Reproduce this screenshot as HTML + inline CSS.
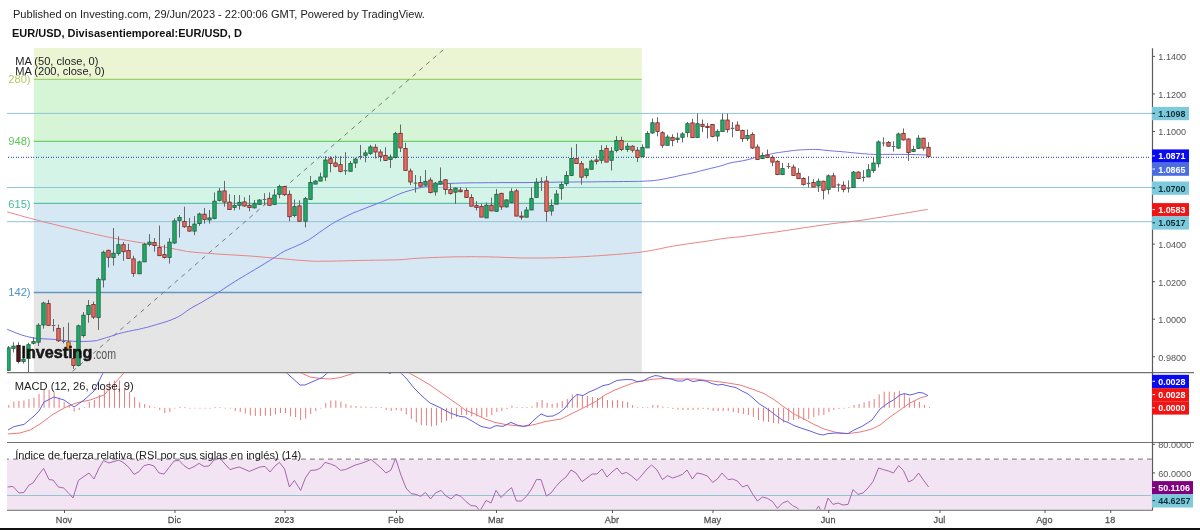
<!DOCTYPE html>
<html><head><meta charset="utf-8"><title>EUR/USD chart</title>
<style>
html,body{margin:0;padding:0;background:#fff;}
body{width:1200px;height:530px;position:relative;overflow:hidden;font-family:"Liberation Sans",Arial,sans-serif;}
.hdr{position:absolute;left:13.6px;white-space:nowrap;color:#222;will-change:transform;}
</style></head><body>
<div class="hdr" style="top:6.2px;left:13.3px;font-size:11.05px;line-height:16px;">Published on Investing.com, 29/Jun/2023 - 22:00:06 GMT, Powered by TradingView.</div>
<div class="hdr" style="top:24.9px;left:12.3px;font-size:11.0px;font-weight:bold;line-height:16px;color:#111;">EUR/USD, Divisasentiemporeal:EUR/USD, D</div>
<svg width="1200" height="530" viewBox="0 0 1200 530" style="position:absolute;left:0;top:0;will-change:transform">
<defs><clipPath id="cm"><rect x="7" y="48" width="1145.5" height="324.5"/></clipPath><clipPath id="cmacd"><rect x="7" y="373.2" width="1145.5" height="68.6"/></clipPath><clipPath id="crsi"><rect x="7" y="443" width="1145.5" height="66.6"/></clipPath></defs>
<g clip-path="url(#cm)">
<rect x="33.8" y="48" width="608.0" height="31.2" fill="#ebf4d3"/>
<rect x="33.8" y="79.2" width="608.0" height="62.0" fill="#d5f5d6"/>
<rect x="33.8" y="141.2" width="608.0" height="62.5" fill="#d5f4e8"/>
<rect x="33.8" y="203.7" width="608.0" height="88.6" fill="#d6e8f4"/>
<rect x="33.8" y="292.3" width="608.0" height="80.2" fill="#e5e5e6"/>
<line x1="33.8" y1="79.4" x2="641.8" y2="79.4" stroke="#9fcf6e" stroke-width="1.3"/>
<line x1="33.8" y1="141.4" x2="641.8" y2="141.4" stroke="#6ccf6c" stroke-width="1.3"/>
<line x1="33.8" y1="203.3" x2="641.8" y2="203.3" stroke="#5cbfa6" stroke-width="1.3"/>
<line x1="33.8" y1="292.5" x2="641.8" y2="292.5" stroke="#6496c0" stroke-width="1.3"/>
<text x="30.6" y="83.1" text-anchor="end" font-family="Liberation Sans, sans-serif" font-size="11.2" fill="#b2ca62">280)</text>
<text x="30.6" y="145.1" text-anchor="end" font-family="Liberation Sans, sans-serif" font-size="11.2" fill="#5bc75b">948)</text>
<text x="30.6" y="207.6" text-anchor="end" font-family="Liberation Sans, sans-serif" font-size="11.2" fill="#47bc9a">615)</text>
<text x="30.6" y="296.2" text-anchor="end" font-family="Liberation Sans, sans-serif" font-size="11.2" fill="#4d94c6">142)</text>
<line x1="7" y1="113.4" x2="1152" y2="113.4" stroke="#92c4d4" stroke-width="1"/>
<line x1="7" y1="187.5" x2="1152" y2="187.5" stroke="#92c4d4" stroke-width="1"/>
<line x1="7" y1="221.7" x2="1152" y2="221.7" stroke="#92c4d4" stroke-width="1"/>
<line x1="70.5" y1="373.1" x2="445.1" y2="48.2" stroke="#7a7a7a" stroke-width="1" stroke-dasharray="4.5 4.5" stroke-dashoffset="6.2"/>
<polyline points="7.2,211.9 10.3,212.8 14.4,213.9 19.4,215.3 24.9,216.9 30.6,218.4 36.2,219.9 41.8,221.4 47.8,222.9 53.9,224.4 60.1,225.9 66.4,227.4 72.5,228.9 78.5,230.3 84.6,231.8 90.6,233.2 96.6,234.6 102.7,235.9 108.7,237.2 114.7,238.3 120.8,239.4 126.9,240.4 132.9,241.4 139,242.4 145,243.4 151.3,244.6 158,245.8 164.7,247.1 171,248.3 176.6,249.4 181,250.2 183.8,250.8 185.2,251.1 185.9,251.3 186.4,251.4 187.6,251.5 190,251.8 193.8,252.2 198.4,252.6 203.7,253 209.2,253.4 214.8,253.8 220,254.2 225,254.5 230,254.8 235,255.1 240,255.4 245,255.7 250,256 255,256.4 260,256.8 265,257.3 270,257.7 275,258.2 280,258.6 285.2,259 290.5,259.5 295.9,260 301,260.4 305.8,260.7 310,261 313.2,261.2 315.6,261.3 317.6,261.3 319.7,261.3 322.3,261.2 326,261.2 330.9,261.1 336.5,261 342.8,260.9 349.3,260.7 355.9,260.5 362.3,260.4 368.8,260.3 375.6,260.2 382.4,260.1 389,260 394.9,259.9 400,259.7 403.7,259.5 406.2,259.3 408.2,259 410.1,258.8 412.6,258.5 416.2,258.3 421.1,258.1 426.8,257.8 433.1,257.5 439.7,257.3 446.2,257.1 452.5,256.9 458.5,256.8 464.6,256.8 470.6,256.7 476.6,256.8 482.7,256.8 488.7,256.9 494.7,257 500.8,257.2 506.8,257.5 512.9,257.7 519,257.9 525,258 531,258 537.1,258 543.1,258 549.1,257.9 555.2,257.8 561.2,257.6 567.2,257.4 573.3,257.1 579.3,256.9 585.3,256.5 591.4,256.2 597.4,255.8 603.6,255.4 610.1,254.9 616.6,254.4 622.9,253.9 628.6,253.4 633.6,252.9 637.7,252.5 641,252.1 643.8,251.7 646.3,251.3 648.9,250.9 651.7,250.4 654.7,249.8 657.8,249.2 660.8,248.6 663.8,247.9 666.9,247.3 669.9,246.7 672.9,246.2 675.9,245.7 679,245.2 682,244.7 685,244.3 688,243.8 691,243.4 694,243 697,242.6 700.1,242.1 703.1,241.7 706.1,241.3 709.1,240.8 712.2,240.3 715.3,239.8 718.3,239.3 721.3,238.8 724.2,238.4 726.9,238.1 729.5,237.8 732,237.6 734.5,237.4 737.2,237.1 740,236.8 743.1,236.4 746.4,235.9 749.7,235.5 753.2,235 756.6,234.5 760,234 763.3,233.6 766.7,233.1 770,232.7 773.3,232.3 776.7,231.9 780,231.4 783.2,230.9 786.3,230.5 789.4,230 792.6,229.5 796.1,229 800,228.4 804.4,227.7 809.3,227 814.5,226.2 819.8,225.4 825,224.7 830,224 834.9,223.4 839.7,222.8 844.5,222.3 849.2,221.8 853.7,221.2 858,220.7 862,220.1 865.9,219.6 869.5,219 873,218.4 876.5,217.9 880,217.3 883.4,216.8 886.5,216.2 889.7,215.7 892.9,215.2 896.3,214.6 900,214 904.5,213.3 909.6,212.4 915,211.5 920.1,210.6 924.4,209.9 927.5,209.4" fill="none" stroke="#e88585" stroke-width="1"/>
<polyline points="7.2,329.3 8.8,329.9 11,330.9 13.5,331.9 16.3,333.1 19.1,334.1 21.7,335 24.1,335.7 26.4,336.4 28.7,336.9 31.1,337.5 33.6,337.9 36.2,338.3 39,338.6 42,338.8 45,338.9 48.1,339.1 51.2,339.2 54.3,339.4 57.4,339.7 60.6,340 63.7,340.4 66.9,340.7 69.8,341 72.5,341.2 74.9,341.3 77.2,341.4 79.3,341.4 81.2,341.5 83.1,341.4 85,341.4 86.9,341.4 88.7,341.3 90.5,341.2 92.1,341.1 93.7,340.9 95,340.8 96.1,340.7 96.9,340.5 97.5,340.4 98.1,340.2 98.9,339.9 100,339.6 101.4,339.2 103,338.7 104.7,338.2 106.5,337.6 108.3,337 110,336.5 111.7,336 113.3,335.4 115,334.9 116.7,334.3 118.3,333.8 120,333.3 121.7,332.9 123.3,332.5 125,332.1 126.7,331.7 128.3,331.4 130,331 131.7,330.7 133.3,330.3 135,330 136.7,329.7 138.3,329.4 140,329 141.7,328.6 143.3,328.2 145,327.8 146.7,327.4 148.3,327 150,326.5 151.7,326 153.3,325.5 155,325 156.7,324.5 158.3,324 160,323.5 161.7,323 163.3,322.5 165,322 166.7,321.5 168.3,320.9 170,320.3 171.7,319.7 173.3,319 175,318.3 176.7,317.5 178.3,316.7 180,315.8 181.6,314.8 183.2,313.7 184.8,312.5 186.4,311.2 188.2,310 190,308.8 192,307.6 194,306.4 196.2,305.3 198.4,304.1 200.7,302.8 203,301.5 205.3,300.1 207.7,298.7 210.2,297.3 212.7,295.8 215.2,294.2 217.9,292.6 220.6,290.9 223.3,289.1 226.1,287.2 229,285.3 232.1,283.3 235.3,281.3 238.8,279.1 242.7,276.8 246.7,274.4 250.6,272.1 254.4,269.8 257.9,267.7 261.1,265.8 264.2,263.9 267,262.1 269.7,260.5 272.2,258.9 274.5,257.5 276.4,256.3 278,255.2 279.3,254.2 280.6,253.4 282,252.5 283.6,251.6 285.4,250.7 287.4,249.8 289.4,249 291.5,248.1 293.6,247.2 295.7,246.3 297.8,245.3 299.9,244.4 302,243.4 304.1,242.3 306.2,241.2 308.4,240 310.6,238.6 312.8,237.2 315,235.6 317.2,234 319.4,232.4 321.6,230.9 323.8,229.4 325.9,228 328,226.5 330.2,225 332.4,223.6 334.8,222.2 337.4,220.7 340.3,219.3 343.2,217.8 346.1,216.4 348.7,215.1 351,214 352.8,213.2 354.1,212.6 355.1,212.2 356.3,211.8 357.6,211.3 359.4,210.6 361.8,209.6 364.7,208.5 367.9,207.2 371,206 374,204.9 376.4,203.9 378.2,203.2 379.5,202.7 380.6,202.3 381.8,201.9 383.1,201.4 384.9,200.6 387.2,199.6 389.9,198.3 392.8,196.9 395.8,195.5 398.9,194.2 401.9,193 404.9,192 408.1,191 411.3,190.1 414.4,189.2 417.3,188.5 420,187.8 422.3,187.3 424.2,186.8 426,186.5 427.8,186.2 429.7,185.9 432,185.6 434.4,185.2 436.8,184.8 439.3,184.4 442.2,184 445.7,183.7 450,183.4 455.3,183.2 461.5,183 468.2,182.9 475.2,182.8 482.1,182.8 488.7,182.7 494.9,182.7 501,182.6 507,182.6 513,182.6 519,182.6 525,182.6 531,182.5 537.1,182.5 543.1,182.4 549.1,182.3 555.2,182.2 561.2,182.1 567.2,182 573.3,182 579.3,181.9 585.3,181.9 591.4,181.9 597.4,181.8 603.8,181.7 610.5,181.7 617.3,181.6 623.7,181.5 629.2,181.5 633.6,181.4 636.5,181.4 638,181.4 638.8,181.4 639.3,181.4 639.9,181.4 641.2,181.3 643.1,181.2 645.2,181.1 647.4,181 649.8,180.9 652.1,180.7 654.4,180.5 656.6,180.2 658.8,179.9 661,179.5 663.3,179.1 665.5,178.6 667.7,178.2 669.9,177.7 672.1,177.3 674.3,176.8 676.5,176.3 678.7,175.8 680.9,175.3 683.1,174.8 685.3,174.4 687.4,174 689.6,173.5 691.8,173.1 694,172.6 696.2,172.1 698.4,171.5 700.6,170.9 702.9,170.3 705.1,169.8 707.3,169.2 709.5,168.7 711.8,168.1 714.1,167.6 716.4,167 718.5,166.5 720.5,166 722.2,165.5 723.7,165 725.1,164.5 726.6,164 728.1,163.5 730,163 732.2,162.5 734.7,162.1 737.4,161.7 740.1,161.2 742.6,160.8 745,160.3 747.1,159.8 749.1,159.3 750.9,158.8 752.7,158.3 754.5,157.8 756.4,157.3 758.3,156.8 760.3,156.4 762.3,155.9 764.2,155.5 766,155.1 767.7,154.7 769.2,154.4 770.4,154.1 771.6,153.8 772.7,153.6 773.9,153.3 775.3,153.1 776.8,152.8 778.4,152.6 780.1,152.3 781.8,152.1 783.5,151.8 785.3,151.6 787.1,151.4 789,151.1 790.9,150.8 792.8,150.6 794.7,150.4 796.6,150.2 798.5,150 800.4,149.9 802.4,149.8 804.3,149.7 806.1,149.7 807.9,149.6 809.5,149.5 810.9,149.5 812.3,149.4 813.7,149.4 815.3,149.4 817,149.5 819,149.6 821.3,149.8 823.6,150.1 826,150.3 828.3,150.6 830.5,150.8 832.5,151 834.5,151.1 836.3,151.3 838.2,151.4 840,151.5 841.9,151.7 843.8,151.9 845.6,152 847.4,152.2 849.3,152.4 851.2,152.6 853.2,152.8 855.4,153 857.7,153.2 860.1,153.4 862.5,153.7 864.8,153.8 866.8,154 868.4,154.1 869.6,154.2 870.7,154.3 872,154.3 873.6,154.4 875.8,154.4 878.8,154.4 882.5,154.4 886.5,154.4 890.7,154.4 894.7,154.4 898.4,154.4 901.8,154.4 905,154.4 908.1,154.5 911.1,154.5 913.9,154.5 916.5,154.6 918.9,154.7 921.2,154.8 923.3,154.9 925.2,155 926.7,155 927.9,155.1" fill="none" stroke="#6f6fe6" stroke-width="1"/>
<line x1="6" y1="157.4" x2="1151" y2="157.4" stroke="#5060c0" stroke-width="1.2" stroke-dasharray="1 1 1 2"/>
<line x1="8.50" y1="346.1" x2="8.50" y2="370.5" stroke="#636869" stroke-width="1"/>
<rect x="6.80" y="347.8" width="3.4" height="22.7" fill="#1cad6b" stroke="#235a3b" stroke-width="0.8"/>
<line x1="13.50" y1="342.2" x2="13.50" y2="352.4" stroke="#636869" stroke-width="1"/>
<rect x="11.80" y="346.1" width="3.4" height="2.3" fill="#1cad6b" stroke="#235a3b" stroke-width="0.8"/>
<line x1="18.50" y1="342.2" x2="18.50" y2="363.5" stroke="#636869" stroke-width="1"/>
<rect x="16.80" y="345.4" width="3.4" height="16.0" fill="#4a1a18" stroke="#2a0a0a" stroke-width="0.8"/>
<line x1="23.50" y1="348.4" x2="23.50" y2="363.5" stroke="#636869" stroke-width="1"/>
<rect x="21.80" y="359.2" width="3.4" height="2.2" fill="#1cad6b" stroke="#235a3b" stroke-width="0.8"/>
<line x1="28.50" y1="342.7" x2="28.50" y2="372.5" stroke="#636869" stroke-width="1"/>
<rect x="26.80" y="344.7" width="3.4" height="13.9" fill="#1cad6b" stroke="#235a3b" stroke-width="0.8"/>
<line x1="33.50" y1="337.0" x2="33.50" y2="344.4" stroke="#636869" stroke-width="1"/>
<rect x="31.80" y="341.6" width="3.4" height="1.7" fill="#1cad6b" stroke="#235a3b" stroke-width="0.8"/>
<line x1="38.50" y1="323.2" x2="38.50" y2="346.1" stroke="#636869" stroke-width="1"/>
<rect x="36.80" y="325.2" width="3.4" height="17.0" fill="#1cad6b" stroke="#235a3b" stroke-width="0.8"/>
<line x1="43.50" y1="301.7" x2="43.50" y2="328.6" stroke="#636869" stroke-width="1"/>
<rect x="41.80" y="303.0" width="3.4" height="22.0" fill="#1cad6b" stroke="#235a3b" stroke-width="0.8"/>
<line x1="48.50" y1="299.8" x2="48.50" y2="325.8" stroke="#636869" stroke-width="1"/>
<rect x="46.80" y="303.6" width="3.4" height="21.7" fill="#ec6a60" stroke="#6c2a25" stroke-width="0.8"/>
<line x1="53.50" y1="319.0" x2="53.50" y2="331.4" stroke="#636869" stroke-width="1"/>
<line x1="51.70" y1="325.5" x2="55.30" y2="325.5" stroke="#636869" stroke-width="1.2"/>
<line x1="58.50" y1="324.6" x2="58.50" y2="342.0" stroke="#636869" stroke-width="1"/>
<rect x="56.80" y="328.4" width="3.4" height="12.4" fill="#ec6a60" stroke="#6c2a25" stroke-width="0.8"/>
<line x1="63.50" y1="326.9" x2="63.50" y2="343.3" stroke="#636869" stroke-width="1"/>
<line x1="61.70" y1="341.5" x2="65.30" y2="341.5" stroke="#636869" stroke-width="1.2"/>
<line x1="68.50" y1="322.7" x2="68.50" y2="351.0" stroke="#636869" stroke-width="1"/>
<rect x="66.80" y="342.0" width="3.4" height="7.0" fill="#f0962a" stroke="#7a4a10" stroke-width="0.8"/>
<line x1="73.50" y1="349.0" x2="73.50" y2="368.8" stroke="#636869" stroke-width="1"/>
<rect x="71.80" y="358.6" width="3.4" height="6.8" fill="#ec6a60" stroke="#6c2a25" stroke-width="0.8"/>
<line x1="78.50" y1="324.6" x2="78.50" y2="366.5" stroke="#636869" stroke-width="1"/>
<rect x="76.80" y="325.8" width="3.4" height="39.6" fill="#1cad6b" stroke="#235a3b" stroke-width="0.8"/>
<line x1="83.50" y1="312.0" x2="83.50" y2="337.5" stroke="#636869" stroke-width="1"/>
<rect x="81.80" y="315.2" width="3.4" height="20.4" fill="#1cad6b" stroke="#235a3b" stroke-width="0.8"/>
<line x1="88.50" y1="300.0" x2="88.50" y2="322.7" stroke="#636869" stroke-width="1"/>
<rect x="86.80" y="305.4" width="3.4" height="9.0" fill="#1cad6b" stroke="#235a3b" stroke-width="0.8"/>
<line x1="93.50" y1="301.6" x2="93.50" y2="319.0" stroke="#636869" stroke-width="1"/>
<rect x="91.80" y="304.4" width="3.4" height="12.7" fill="#ec6a60" stroke="#6c2a25" stroke-width="0.8"/>
<line x1="98.50" y1="277.5" x2="98.50" y2="329.9" stroke="#636869" stroke-width="1"/>
<rect x="96.80" y="279.3" width="3.4" height="38.3" fill="#1cad6b" stroke="#235a3b" stroke-width="0.8"/>
<line x1="103.50" y1="250.7" x2="103.50" y2="287.5" stroke="#636869" stroke-width="1"/>
<rect x="101.80" y="252.2" width="3.4" height="27.7" fill="#1cad6b" stroke="#235a3b" stroke-width="0.8"/>
<line x1="108.50" y1="249.7" x2="108.50" y2="267.5" stroke="#636869" stroke-width="1"/>
<rect x="106.80" y="250.3" width="3.4" height="7.0" fill="#ec6a60" stroke="#6c2a25" stroke-width="0.8"/>
<line x1="113.50" y1="228.0" x2="113.50" y2="265.6" stroke="#636869" stroke-width="1"/>
<rect x="111.80" y="253.2" width="3.4" height="4.4" fill="#1cad6b" stroke="#235a3b" stroke-width="0.8"/>
<line x1="118.50" y1="236.4" x2="118.50" y2="255.7" stroke="#636869" stroke-width="1"/>
<rect x="116.80" y="244.7" width="3.4" height="8.9" fill="#1cad6b" stroke="#235a3b" stroke-width="0.8"/>
<line x1="123.50" y1="242.0" x2="123.50" y2="260.8" stroke="#636869" stroke-width="1"/>
<rect x="121.80" y="244.7" width="3.4" height="7.0" fill="#ec6a60" stroke="#6c2a25" stroke-width="0.8"/>
<line x1="128.50" y1="243.8" x2="128.50" y2="258.6" stroke="#636869" stroke-width="1"/>
<rect x="126.80" y="250.4" width="3.4" height="8.1" fill="#ec6a60" stroke="#6c2a25" stroke-width="0.8"/>
<line x1="133.50" y1="255.7" x2="133.50" y2="276.8" stroke="#636869" stroke-width="1"/>
<rect x="131.80" y="258.9" width="3.4" height="14.5" fill="#ec6a60" stroke="#6c2a25" stroke-width="0.8"/>
<line x1="139.50" y1="260.6" x2="139.50" y2="273.8" stroke="#636869" stroke-width="1"/>
<rect x="137.80" y="261.9" width="3.4" height="11.9" fill="#1cad6b" stroke="#235a3b" stroke-width="0.8"/>
<line x1="144.50" y1="242.7" x2="144.50" y2="261.9" stroke="#636869" stroke-width="1"/>
<rect x="142.80" y="244.3" width="3.4" height="17.6" fill="#1cad6b" stroke="#235a3b" stroke-width="0.8"/>
<line x1="149.50" y1="234.2" x2="149.50" y2="246.4" stroke="#636869" stroke-width="1"/>
<rect x="147.80" y="242.1" width="3.4" height="2.2" fill="#1cad6b" stroke="#235a3b" stroke-width="0.8"/>
<line x1="154.50" y1="238.1" x2="154.50" y2="251.7" stroke="#636869" stroke-width="1"/>
<rect x="152.80" y="242.5" width="3.4" height="2.9" fill="#ec6a60" stroke="#6c2a25" stroke-width="0.8"/>
<line x1="159.50" y1="225.6" x2="159.50" y2="255.7" stroke="#636869" stroke-width="1"/>
<rect x="157.80" y="247.4" width="3.4" height="8.3" fill="#ec6a60" stroke="#6c2a25" stroke-width="0.8"/>
<line x1="164.50" y1="244.7" x2="164.50" y2="258.6" stroke="#636869" stroke-width="1"/>
<rect x="162.80" y="254.6" width="3.4" height="2.9" fill="#ec6a60" stroke="#6c2a25" stroke-width="0.8"/>
<line x1="169.50" y1="238.1" x2="169.50" y2="263.6" stroke="#636869" stroke-width="1"/>
<rect x="167.80" y="242.1" width="3.4" height="15.4" fill="#1cad6b" stroke="#235a3b" stroke-width="0.8"/>
<line x1="174.50" y1="218.3" x2="174.50" y2="244.1" stroke="#636869" stroke-width="1"/>
<rect x="172.80" y="220.9" width="3.4" height="22.1" fill="#1cad6b" stroke="#235a3b" stroke-width="0.8"/>
<line x1="179.50" y1="215.0" x2="179.50" y2="237.5" stroke="#636869" stroke-width="1"/>
<rect x="177.80" y="217.4" width="3.4" height="3.1" fill="#1cad6b" stroke="#235a3b" stroke-width="0.8"/>
<line x1="184.50" y1="206.7" x2="184.50" y2="227.8" stroke="#636869" stroke-width="1"/>
<rect x="182.80" y="221.5" width="3.4" height="5.3" fill="#ec6a60" stroke="#6c2a25" stroke-width="0.8"/>
<line x1="189.50" y1="217.9" x2="189.50" y2="231.8" stroke="#636869" stroke-width="1"/>
<rect x="187.80" y="226.5" width="3.4" height="4.6" fill="#ec6a60" stroke="#6c2a25" stroke-width="0.8"/>
<line x1="194.50" y1="216.0" x2="194.50" y2="235.1" stroke="#636869" stroke-width="1"/>
<rect x="192.80" y="224.1" width="3.4" height="7.0" fill="#1cad6b" stroke="#235a3b" stroke-width="0.8"/>
<line x1="199.50" y1="212.6" x2="199.50" y2="225.9" stroke="#636869" stroke-width="1"/>
<rect x="197.80" y="214.0" width="3.4" height="9.6" fill="#1cad6b" stroke="#235a3b" stroke-width="0.8"/>
<line x1="204.50" y1="208.0" x2="204.50" y2="223.6" stroke="#636869" stroke-width="1"/>
<rect x="202.80" y="214.2" width="3.4" height="5.4" fill="#ec6a60" stroke="#6c2a25" stroke-width="0.8"/>
<line x1="209.50" y1="210.0" x2="209.50" y2="223.6" stroke="#636869" stroke-width="1"/>
<rect x="207.80" y="217.9" width="3.4" height="2.0" fill="#1cad6b" stroke="#235a3b" stroke-width="0.8"/>
<line x1="214.50" y1="192.4" x2="214.50" y2="219.3" stroke="#636869" stroke-width="1"/>
<rect x="212.80" y="201.2" width="3.4" height="17.4" fill="#1cad6b" stroke="#235a3b" stroke-width="0.8"/>
<line x1="219.50" y1="188.0" x2="219.50" y2="201.4" stroke="#636869" stroke-width="1"/>
<rect x="217.80" y="191.1" width="3.4" height="9.3" fill="#1cad6b" stroke="#235a3b" stroke-width="0.8"/>
<line x1="224.50" y1="180.9" x2="224.50" y2="206.7" stroke="#636869" stroke-width="1"/>
<rect x="222.80" y="190.9" width="3.4" height="11.2" fill="#ec6a60" stroke="#6c2a25" stroke-width="0.8"/>
<line x1="229.50" y1="194.2" x2="229.50" y2="209.6" stroke="#636869" stroke-width="1"/>
<rect x="227.80" y="202.1" width="3.4" height="7.5" fill="#ec6a60" stroke="#6c2a25" stroke-width="0.8"/>
<line x1="234.50" y1="195.0" x2="234.50" y2="210.4" stroke="#636869" stroke-width="1"/>
<rect x="232.80" y="205.4" width="3.4" height="2.0" fill="#1cad6b" stroke="#235a3b" stroke-width="0.8"/>
<line x1="239.50" y1="195.1" x2="239.50" y2="209.6" stroke="#636869" stroke-width="1"/>
<rect x="237.80" y="202.3" width="3.4" height="3.0" fill="#1cad6b" stroke="#235a3b" stroke-width="0.8"/>
<line x1="244.50" y1="197.2" x2="244.50" y2="206.8" stroke="#636869" stroke-width="1"/>
<rect x="242.80" y="201.9" width="3.4" height="4.1" fill="#ec6a60" stroke="#6c2a25" stroke-width="0.8"/>
<line x1="249.50" y1="195.1" x2="249.50" y2="211.3" stroke="#636869" stroke-width="1"/>
<rect x="247.80" y="205.3" width="3.4" height="2.3" fill="#ec6a60" stroke="#6c2a25" stroke-width="0.8"/>
<line x1="254.50" y1="200.0" x2="254.50" y2="208.5" stroke="#636869" stroke-width="1"/>
<rect x="252.80" y="203.7" width="3.4" height="4.2" fill="#1cad6b" stroke="#235a3b" stroke-width="0.8"/>
<line x1="259.50" y1="199.2" x2="259.50" y2="204.5" stroke="#636869" stroke-width="1"/>
<rect x="257.80" y="200.0" width="3.4" height="4.5" fill="#1cad6b" stroke="#235a3b" stroke-width="0.8"/>
<line x1="264.50" y1="193.2" x2="264.50" y2="205.1" stroke="#636869" stroke-width="1"/>
<line x1="262.70" y1="199.5" x2="266.30" y2="199.5" stroke="#636869" stroke-width="1.2"/>
<line x1="269.50" y1="192.4" x2="269.50" y2="205.3" stroke="#636869" stroke-width="1"/>
<rect x="267.80" y="198.3" width="3.4" height="7.0" fill="#ec6a60" stroke="#6c2a25" stroke-width="0.8"/>
<line x1="274.50" y1="189.3" x2="274.50" y2="204.5" stroke="#636869" stroke-width="1"/>
<rect x="272.80" y="195.1" width="3.4" height="9.4" fill="#1cad6b" stroke="#235a3b" stroke-width="0.8"/>
<line x1="279.50" y1="184.7" x2="279.50" y2="198.3" stroke="#636869" stroke-width="1"/>
<rect x="277.80" y="186.4" width="3.4" height="7.9" fill="#1cad6b" stroke="#235a3b" stroke-width="0.8"/>
<line x1="284.50" y1="185.9" x2="284.50" y2="196.0" stroke="#636869" stroke-width="1"/>
<rect x="282.80" y="186.4" width="3.4" height="8.3" fill="#ec6a60" stroke="#6c2a25" stroke-width="0.8"/>
<line x1="289.50" y1="190.4" x2="289.50" y2="221.2" stroke="#636869" stroke-width="1"/>
<rect x="287.80" y="194.3" width="3.4" height="22.4" fill="#ec6a60" stroke="#6c2a25" stroke-width="0.8"/>
<line x1="294.50" y1="199.4" x2="294.50" y2="217.3" stroke="#636869" stroke-width="1"/>
<rect x="292.80" y="206.6" width="3.4" height="9.0" fill="#1cad6b" stroke="#235a3b" stroke-width="0.8"/>
<line x1="299.50" y1="200.3" x2="299.50" y2="221.5" stroke="#636869" stroke-width="1"/>
<rect x="297.80" y="205.9" width="3.4" height="15.3" fill="#ec6a60" stroke="#6c2a25" stroke-width="0.8"/>
<line x1="305.50" y1="196.9" x2="305.50" y2="227.4" stroke="#636869" stroke-width="1"/>
<rect x="303.80" y="198.6" width="3.4" height="22.6" fill="#1cad6b" stroke="#235a3b" stroke-width="0.8"/>
<line x1="310.50" y1="176.0" x2="310.50" y2="199.4" stroke="#636869" stroke-width="1"/>
<rect x="308.80" y="182.4" width="3.4" height="17.0" fill="#1cad6b" stroke="#235a3b" stroke-width="0.8"/>
<line x1="315.50" y1="179.9" x2="315.50" y2="184.1" stroke="#636869" stroke-width="1"/>
<rect x="313.80" y="181.1" width="3.4" height="3.0" fill="#1cad6b" stroke="#235a3b" stroke-width="0.8"/>
<line x1="320.50" y1="172.6" x2="320.50" y2="181.1" stroke="#636869" stroke-width="1"/>
<rect x="318.80" y="177.0" width="3.4" height="4.1" fill="#1cad6b" stroke="#235a3b" stroke-width="0.8"/>
<line x1="325.50" y1="156.1" x2="325.50" y2="181.1" stroke="#636869" stroke-width="1"/>
<rect x="323.80" y="160.0" width="3.4" height="17.0" fill="#1cad6b" stroke="#235a3b" stroke-width="0.8"/>
<line x1="330.50" y1="156.1" x2="330.50" y2="172.3" stroke="#636869" stroke-width="1"/>
<rect x="328.80" y="158.7" width="3.4" height="4.7" fill="#ec6a60" stroke="#6c2a25" stroke-width="0.8"/>
<line x1="335.50" y1="155.6" x2="335.50" y2="167.2" stroke="#636869" stroke-width="1"/>
<rect x="333.80" y="162.9" width="3.4" height="3.4" fill="#ec6a60" stroke="#6c2a25" stroke-width="0.8"/>
<line x1="340.50" y1="156.1" x2="340.50" y2="172.3" stroke="#636869" stroke-width="1"/>
<rect x="338.80" y="164.6" width="3.4" height="6.8" fill="#ec6a60" stroke="#6c2a25" stroke-width="0.8"/>
<line x1="345.50" y1="152.2" x2="345.50" y2="174.8" stroke="#636869" stroke-width="1"/>
<line x1="343.70" y1="170.7" x2="347.30" y2="170.7" stroke="#636869" stroke-width="1.2"/>
<line x1="350.50" y1="161.0" x2="350.50" y2="171.3" stroke="#636869" stroke-width="1"/>
<rect x="348.80" y="163.5" width="3.4" height="7.8" fill="#1cad6b" stroke="#235a3b" stroke-width="0.8"/>
<line x1="355.50" y1="157.7" x2="355.50" y2="168.0" stroke="#636869" stroke-width="1"/>
<rect x="353.80" y="159.0" width="3.4" height="4.0" fill="#1cad6b" stroke="#235a3b" stroke-width="0.8"/>
<line x1="360.50" y1="144.9" x2="360.50" y2="159.5" stroke="#636869" stroke-width="1"/>
<line x1="358.70" y1="156.7" x2="362.30" y2="156.7" stroke="#636869" stroke-width="1.2"/>
<line x1="365.50" y1="150.2" x2="365.50" y2="162.3" stroke="#636869" stroke-width="1"/>
<rect x="363.80" y="152.9" width="3.4" height="2.6" fill="#1cad6b" stroke="#235a3b" stroke-width="0.8"/>
<line x1="370.50" y1="144.9" x2="370.50" y2="155.0" stroke="#636869" stroke-width="1"/>
<rect x="368.80" y="146.9" width="3.4" height="6.6" fill="#1cad6b" stroke="#235a3b" stroke-width="0.8"/>
<line x1="375.50" y1="144.2" x2="375.50" y2="158.5" stroke="#636869" stroke-width="1"/>
<rect x="373.80" y="147.2" width="3.4" height="4.8" fill="#ec6a60" stroke="#6c2a25" stroke-width="0.8"/>
<line x1="380.50" y1="149.4" x2="380.50" y2="161.5" stroke="#636869" stroke-width="1"/>
<rect x="378.80" y="152.0" width="3.4" height="4.5" fill="#ec6a60" stroke="#6c2a25" stroke-width="0.8"/>
<line x1="385.50" y1="147.2" x2="385.50" y2="161.0" stroke="#636869" stroke-width="1"/>
<rect x="383.80" y="155.5" width="3.4" height="5.0" fill="#ec6a60" stroke="#6c2a25" stroke-width="0.8"/>
<line x1="390.50" y1="154.4" x2="390.50" y2="168.0" stroke="#636869" stroke-width="1"/>
<rect x="388.80" y="157.0" width="3.4" height="2.5" fill="#1cad6b" stroke="#235a3b" stroke-width="0.8"/>
<line x1="395.50" y1="131.8" x2="395.50" y2="158.5" stroke="#636869" stroke-width="1"/>
<rect x="393.80" y="133.6" width="3.4" height="23.8" fill="#1cad6b" stroke="#235a3b" stroke-width="0.8"/>
<line x1="400.50" y1="124.5" x2="400.50" y2="152.0" stroke="#636869" stroke-width="1"/>
<rect x="398.80" y="133.3" width="3.4" height="14.6" fill="#ec6a60" stroke="#6c2a25" stroke-width="0.8"/>
<line x1="405.50" y1="142.8" x2="405.50" y2="170.5" stroke="#636869" stroke-width="1"/>
<rect x="403.80" y="148.4" width="3.4" height="22.1" fill="#ec6a60" stroke="#6c2a25" stroke-width="0.8"/>
<line x1="410.50" y1="168.5" x2="410.50" y2="185.1" stroke="#636869" stroke-width="1"/>
<rect x="408.80" y="171.0" width="3.4" height="11.0" fill="#ec6a60" stroke="#6c2a25" stroke-width="0.8"/>
<line x1="415.50" y1="175.0" x2="415.50" y2="192.6" stroke="#636869" stroke-width="1"/>
<line x1="413.70" y1="183.1" x2="417.30" y2="183.1" stroke="#636869" stroke-width="1.2"/>
<line x1="420.50" y1="176.0" x2="420.50" y2="187.0" stroke="#636869" stroke-width="1"/>
<rect x="418.80" y="182.5" width="3.4" height="3.7" fill="#ec6a60" stroke="#6c2a25" stroke-width="0.8"/>
<line x1="425.50" y1="170.0" x2="425.50" y2="186.2" stroke="#636869" stroke-width="1"/>
<rect x="423.80" y="181.3" width="3.4" height="3.8" fill="#1cad6b" stroke="#235a3b" stroke-width="0.8"/>
<line x1="430.50" y1="177.5" x2="430.50" y2="193.4" stroke="#636869" stroke-width="1"/>
<rect x="428.80" y="180.1" width="3.4" height="12.5" fill="#ec6a60" stroke="#6c2a25" stroke-width="0.8"/>
<line x1="435.50" y1="182.0" x2="435.50" y2="195.7" stroke="#636869" stroke-width="1"/>
<rect x="433.80" y="183.1" width="3.4" height="8.8" fill="#1cad6b" stroke="#235a3b" stroke-width="0.8"/>
<line x1="440.50" y1="167.4" x2="440.50" y2="184.6" stroke="#636869" stroke-width="1"/>
<rect x="438.80" y="181.3" width="3.4" height="2.7" fill="#1cad6b" stroke="#235a3b" stroke-width="0.8"/>
<line x1="445.50" y1="179.0" x2="445.50" y2="194.6" stroke="#636869" stroke-width="1"/>
<rect x="443.80" y="179.8" width="3.4" height="9.8" fill="#ec6a60" stroke="#6c2a25" stroke-width="0.8"/>
<line x1="450.50" y1="183.6" x2="450.50" y2="194.6" stroke="#636869" stroke-width="1"/>
<rect x="448.80" y="189.6" width="3.4" height="3.8" fill="#ec6a60" stroke="#6c2a25" stroke-width="0.8"/>
<line x1="455.50" y1="187.4" x2="455.50" y2="204.0" stroke="#636869" stroke-width="1"/>
<rect x="453.80" y="188.1" width="3.4" height="4.1" fill="#1cad6b" stroke="#235a3b" stroke-width="0.8"/>
<line x1="460.50" y1="187.1" x2="460.50" y2="192.4" stroke="#636869" stroke-width="1"/>
<rect x="458.80" y="190.1" width="3.4" height="1.6" fill="#ec6a60" stroke="#6c2a25" stroke-width="0.8"/>
<line x1="466.50" y1="187.7" x2="466.50" y2="197.6" stroke="#636869" stroke-width="1"/>
<rect x="464.80" y="190.4" width="3.4" height="7.2" fill="#ec6a60" stroke="#6c2a25" stroke-width="0.8"/>
<line x1="471.50" y1="194.1" x2="471.50" y2="206.2" stroke="#636869" stroke-width="1"/>
<rect x="469.80" y="197.6" width="3.4" height="8.6" fill="#ec6a60" stroke="#6c2a25" stroke-width="0.8"/>
<line x1="476.50" y1="201.2" x2="476.50" y2="210.5" stroke="#636869" stroke-width="1"/>
<rect x="474.80" y="205.6" width="3.4" height="2.0" fill="#ec6a60" stroke="#6c2a25" stroke-width="0.8"/>
<line x1="481.50" y1="203.6" x2="481.50" y2="217.1" stroke="#636869" stroke-width="1"/>
<rect x="479.80" y="206.5" width="3.4" height="10.6" fill="#ec6a60" stroke="#6c2a25" stroke-width="0.8"/>
<line x1="486.50" y1="202.5" x2="486.50" y2="218.1" stroke="#636869" stroke-width="1"/>
<rect x="484.80" y="205.2" width="3.4" height="12.7" fill="#1cad6b" stroke="#235a3b" stroke-width="0.8"/>
<line x1="491.50" y1="197.6" x2="491.50" y2="210.9" stroke="#636869" stroke-width="1"/>
<rect x="489.80" y="205.2" width="3.4" height="5.7" fill="#ec6a60" stroke="#6c2a25" stroke-width="0.8"/>
<line x1="496.50" y1="189.1" x2="496.50" y2="211.5" stroke="#636869" stroke-width="1"/>
<rect x="494.80" y="194.3" width="3.4" height="17.0" fill="#1cad6b" stroke="#235a3b" stroke-width="0.8"/>
<line x1="501.50" y1="192.8" x2="501.50" y2="209.9" stroke="#636869" stroke-width="1"/>
<rect x="499.80" y="193.3" width="3.4" height="13.6" fill="#ec6a60" stroke="#6c2a25" stroke-width="0.8"/>
<line x1="506.50" y1="199.4" x2="506.50" y2="207.6" stroke="#636869" stroke-width="1"/>
<rect x="504.80" y="199.9" width="3.4" height="7.0" fill="#1cad6b" stroke="#235a3b" stroke-width="0.8"/>
<line x1="511.50" y1="188.4" x2="511.50" y2="202.8" stroke="#636869" stroke-width="1"/>
<rect x="509.80" y="191.7" width="3.4" height="10.8" fill="#1cad6b" stroke="#235a3b" stroke-width="0.8"/>
<line x1="516.50" y1="188.9" x2="516.50" y2="216.1" stroke="#636869" stroke-width="1"/>
<rect x="514.80" y="190.9" width="3.4" height="25.2" fill="#ec6a60" stroke="#6c2a25" stroke-width="0.8"/>
<line x1="521.50" y1="211.3" x2="521.50" y2="219.8" stroke="#636869" stroke-width="1"/>
<rect x="519.80" y="216.1" width="3.4" height="1.1" fill="#ec6a60" stroke="#6c2a25" stroke-width="0.8"/>
<line x1="526.50" y1="207.0" x2="526.50" y2="217.2" stroke="#636869" stroke-width="1"/>
<rect x="524.80" y="210.0" width="3.4" height="7.2" fill="#1cad6b" stroke="#235a3b" stroke-width="0.8"/>
<line x1="531.50" y1="187.5" x2="531.50" y2="210.0" stroke="#636869" stroke-width="1"/>
<rect x="529.80" y="198.6" width="3.4" height="11.4" fill="#1cad6b" stroke="#235a3b" stroke-width="0.8"/>
<line x1="536.50" y1="178.2" x2="536.50" y2="197.4" stroke="#636869" stroke-width="1"/>
<rect x="534.80" y="182.1" width="3.4" height="15.3" fill="#1cad6b" stroke="#235a3b" stroke-width="0.8"/>
<line x1="541.50" y1="177.4" x2="541.50" y2="191.0" stroke="#636869" stroke-width="1"/>
<line x1="539.70" y1="181.6" x2="543.30" y2="181.6" stroke="#636869" stroke-width="1.2"/>
<line x1="546.50" y1="176.0" x2="546.50" y2="221.5" stroke="#636869" stroke-width="1"/>
<rect x="544.80" y="181.1" width="3.4" height="30.2" fill="#ec6a60" stroke="#6c2a25" stroke-width="0.8"/>
<line x1="551.50" y1="199.4" x2="551.50" y2="215.6" stroke="#636869" stroke-width="1"/>
<rect x="549.80" y="205.4" width="3.4" height="5.6" fill="#1cad6b" stroke="#235a3b" stroke-width="0.8"/>
<line x1="556.50" y1="190.0" x2="556.50" y2="204.2" stroke="#636869" stroke-width="1"/>
<rect x="554.80" y="194.0" width="3.4" height="10.2" fill="#1cad6b" stroke="#235a3b" stroke-width="0.8"/>
<line x1="561.50" y1="181.6" x2="561.50" y2="199.8" stroke="#636869" stroke-width="1"/>
<rect x="559.80" y="184.5" width="3.4" height="3.9" fill="#1cad6b" stroke="#235a3b" stroke-width="0.8"/>
<line x1="566.50" y1="171.2" x2="566.50" y2="186.0" stroke="#636869" stroke-width="1"/>
<rect x="564.80" y="175.4" width="3.4" height="8.3" fill="#1cad6b" stroke="#235a3b" stroke-width="0.8"/>
<line x1="571.50" y1="147.5" x2="571.50" y2="176.1" stroke="#636869" stroke-width="1"/>
<rect x="569.80" y="158.5" width="3.4" height="16.9" fill="#1cad6b" stroke="#235a3b" stroke-width="0.8"/>
<line x1="576.50" y1="144.0" x2="576.50" y2="163.6" stroke="#636869" stroke-width="1"/>
<rect x="574.80" y="158.5" width="3.4" height="5.1" fill="#ec6a60" stroke="#6c2a25" stroke-width="0.8"/>
<line x1="581.50" y1="161.0" x2="581.50" y2="184.7" stroke="#636869" stroke-width="1"/>
<rect x="579.80" y="163.6" width="3.4" height="13.6" fill="#ec6a60" stroke="#6c2a25" stroke-width="0.8"/>
<line x1="586.50" y1="168.1" x2="586.50" y2="178.4" stroke="#636869" stroke-width="1"/>
<rect x="584.80" y="169.0" width="3.4" height="6.7" fill="#1cad6b" stroke="#235a3b" stroke-width="0.8"/>
<line x1="591.50" y1="159.5" x2="591.50" y2="169.3" stroke="#636869" stroke-width="1"/>
<rect x="589.80" y="161.0" width="3.4" height="8.3" fill="#1cad6b" stroke="#235a3b" stroke-width="0.8"/>
<line x1="596.50" y1="155.5" x2="596.50" y2="164.5" stroke="#636869" stroke-width="1"/>
<rect x="594.80" y="160.0" width="3.4" height="1.5" fill="#ec6a60" stroke="#6c2a25" stroke-width="0.8"/>
<line x1="601.50" y1="145.2" x2="601.50" y2="163.6" stroke="#636869" stroke-width="1"/>
<rect x="599.80" y="150.5" width="3.4" height="9.8" fill="#1cad6b" stroke="#235a3b" stroke-width="0.8"/>
<line x1="606.50" y1="145.2" x2="606.50" y2="162.1" stroke="#636869" stroke-width="1"/>
<rect x="604.80" y="148.5" width="3.4" height="13.6" fill="#ec6a60" stroke="#6c2a25" stroke-width="0.8"/>
<line x1="611.50" y1="147.0" x2="611.50" y2="170.5" stroke="#636869" stroke-width="1"/>
<rect x="609.80" y="151.2" width="3.4" height="9.1" fill="#1cad6b" stroke="#235a3b" stroke-width="0.8"/>
<line x1="616.50" y1="136.1" x2="616.50" y2="152.4" stroke="#636869" stroke-width="1"/>
<rect x="614.80" y="140.4" width="3.4" height="10.1" fill="#1cad6b" stroke="#235a3b" stroke-width="0.8"/>
<line x1="621.50" y1="136.7" x2="621.50" y2="151.2" stroke="#636869" stroke-width="1"/>
<rect x="619.80" y="140.4" width="3.4" height="9.1" fill="#ec6a60" stroke="#6c2a25" stroke-width="0.8"/>
<line x1="627.50" y1="143.0" x2="627.50" y2="151.9" stroke="#636869" stroke-width="1"/>
<rect x="625.80" y="146.2" width="3.4" height="3.4" fill="#1cad6b" stroke="#235a3b" stroke-width="0.8"/>
<line x1="632.50" y1="145.3" x2="632.50" y2="152.6" stroke="#636869" stroke-width="1"/>
<rect x="630.80" y="146.2" width="3.4" height="4.0" fill="#ec6a60" stroke="#6c2a25" stroke-width="0.8"/>
<line x1="637.50" y1="147.0" x2="637.50" y2="162.1" stroke="#636869" stroke-width="1"/>
<rect x="635.80" y="150.2" width="3.4" height="7.4" fill="#ec6a60" stroke="#6c2a25" stroke-width="0.8"/>
<line x1="642.50" y1="144.4" x2="642.50" y2="156.8" stroke="#636869" stroke-width="1"/>
<rect x="640.80" y="147.5" width="3.4" height="9.3" fill="#1cad6b" stroke="#235a3b" stroke-width="0.8"/>
<line x1="647.50" y1="131.2" x2="647.50" y2="147.9" stroke="#636869" stroke-width="1"/>
<rect x="645.80" y="133.4" width="3.4" height="14.5" fill="#1cad6b" stroke="#235a3b" stroke-width="0.8"/>
<line x1="652.50" y1="118.5" x2="652.50" y2="133.8" stroke="#636869" stroke-width="1"/>
<rect x="650.80" y="122.8" width="3.4" height="10.2" fill="#1cad6b" stroke="#235a3b" stroke-width="0.8"/>
<line x1="657.50" y1="117.2" x2="657.50" y2="136.4" stroke="#636869" stroke-width="1"/>
<rect x="655.80" y="122.8" width="3.4" height="8.6" fill="#ec6a60" stroke="#6c2a25" stroke-width="0.8"/>
<line x1="662.50" y1="131.2" x2="662.50" y2="147.9" stroke="#636869" stroke-width="1"/>
<rect x="660.80" y="132.7" width="3.4" height="12.6" fill="#ec6a60" stroke="#6c2a25" stroke-width="0.8"/>
<line x1="667.50" y1="134.7" x2="667.50" y2="145.3" stroke="#636869" stroke-width="1"/>
<rect x="665.80" y="137.0" width="3.4" height="8.3" fill="#1cad6b" stroke="#235a3b" stroke-width="0.8"/>
<line x1="672.50" y1="134.3" x2="672.50" y2="146.2" stroke="#636869" stroke-width="1"/>
<rect x="670.80" y="137.4" width="3.4" height="3.0" fill="#ec6a60" stroke="#6c2a25" stroke-width="0.8"/>
<line x1="677.50" y1="132.7" x2="677.50" y2="142.9" stroke="#636869" stroke-width="1"/>
<rect x="675.80" y="138.1" width="3.4" height="1.4" fill="#1cad6b" stroke="#235a3b" stroke-width="0.8"/>
<line x1="682.50" y1="132.2" x2="682.50" y2="142.4" stroke="#636869" stroke-width="1"/>
<rect x="680.80" y="133.9" width="3.4" height="3.4" fill="#1cad6b" stroke="#235a3b" stroke-width="0.8"/>
<line x1="687.50" y1="122.0" x2="687.50" y2="137.3" stroke="#636869" stroke-width="1"/>
<rect x="685.80" y="123.7" width="3.4" height="9.0" fill="#1cad6b" stroke="#235a3b" stroke-width="0.8"/>
<line x1="692.50" y1="118.8" x2="692.50" y2="137.6" stroke="#636869" stroke-width="1"/>
<rect x="690.80" y="122.9" width="3.4" height="14.7" fill="#ec6a60" stroke="#6c2a25" stroke-width="0.8"/>
<line x1="697.50" y1="113.5" x2="697.50" y2="137.6" stroke="#636869" stroke-width="1"/>
<rect x="695.80" y="123.7" width="3.4" height="13.9" fill="#1cad6b" stroke="#235a3b" stroke-width="0.8"/>
<line x1="702.50" y1="119.5" x2="702.50" y2="132.2" stroke="#636869" stroke-width="1"/>
<rect x="700.80" y="124.3" width="3.4" height="2.2" fill="#ec6a60" stroke="#6c2a25" stroke-width="0.8"/>
<line x1="707.50" y1="122.9" x2="707.50" y2="138.4" stroke="#636869" stroke-width="1"/>
<rect x="705.80" y="126.3" width="3.4" height="1.3" fill="#ec6a60" stroke="#6c2a25" stroke-width="0.8"/>
<line x1="712.50" y1="124.3" x2="712.50" y2="137.3" stroke="#636869" stroke-width="1"/>
<rect x="710.80" y="124.5" width="3.4" height="12.0" fill="#ec6a60" stroke="#6c2a25" stroke-width="0.8"/>
<line x1="717.50" y1="129.3" x2="717.50" y2="141.5" stroke="#636869" stroke-width="1"/>
<rect x="715.80" y="131.3" width="3.4" height="4.8" fill="#1cad6b" stroke="#235a3b" stroke-width="0.8"/>
<line x1="722.50" y1="113.5" x2="722.50" y2="131.6" stroke="#636869" stroke-width="1"/>
<rect x="720.80" y="120.0" width="3.4" height="11.6" fill="#1cad6b" stroke="#235a3b" stroke-width="0.8"/>
<line x1="727.50" y1="113.5" x2="727.50" y2="132.7" stroke="#636869" stroke-width="1"/>
<rect x="725.80" y="120.0" width="3.4" height="9.7" fill="#ec6a60" stroke="#6c2a25" stroke-width="0.8"/>
<line x1="732.50" y1="122.0" x2="732.50" y2="137.3" stroke="#636869" stroke-width="1"/>
<line x1="730.70" y1="128.3" x2="734.30" y2="128.3" stroke="#636869" stroke-width="1.2"/>
<line x1="737.50" y1="121.3" x2="737.50" y2="130.4" stroke="#636869" stroke-width="1"/>
<rect x="735.80" y="125.1" width="3.4" height="5.3" fill="#ec6a60" stroke="#6c2a25" stroke-width="0.8"/>
<line x1="742.50" y1="129.6" x2="742.50" y2="142.0" stroke="#636869" stroke-width="1"/>
<rect x="740.80" y="130.4" width="3.4" height="8.3" fill="#ec6a60" stroke="#6c2a25" stroke-width="0.8"/>
<line x1="747.50" y1="129.6" x2="747.50" y2="141.0" stroke="#636869" stroke-width="1"/>
<rect x="745.80" y="135.4" width="3.4" height="3.3" fill="#1cad6b" stroke="#235a3b" stroke-width="0.8"/>
<line x1="752.50" y1="132.3" x2="752.50" y2="149.0" stroke="#636869" stroke-width="1"/>
<rect x="750.80" y="134.5" width="3.4" height="13.5" fill="#ec6a60" stroke="#6c2a25" stroke-width="0.8"/>
<line x1="757.50" y1="144.4" x2="757.50" y2="159.5" stroke="#636869" stroke-width="1"/>
<rect x="755.80" y="147.0" width="3.4" height="12.5" fill="#ec6a60" stroke="#6c2a25" stroke-width="0.8"/>
<line x1="762.50" y1="152.6" x2="762.50" y2="159.0" stroke="#636869" stroke-width="1"/>
<rect x="760.80" y="155.6" width="3.4" height="3.0" fill="#1cad6b" stroke="#235a3b" stroke-width="0.8"/>
<line x1="767.50" y1="149.5" x2="767.50" y2="158.0" stroke="#636869" stroke-width="1"/>
<rect x="765.80" y="155.0" width="3.4" height="2.5" fill="#ec6a60" stroke="#6c2a25" stroke-width="0.8"/>
<line x1="772.50" y1="155.3" x2="772.50" y2="166.2" stroke="#636869" stroke-width="1"/>
<rect x="770.80" y="157.5" width="3.4" height="4.6" fill="#ec6a60" stroke="#6c2a25" stroke-width="0.8"/>
<line x1="777.50" y1="160.1" x2="777.50" y2="175.2" stroke="#636869" stroke-width="1"/>
<rect x="775.80" y="161.3" width="3.4" height="13.3" fill="#ec6a60" stroke="#6c2a25" stroke-width="0.8"/>
<line x1="782.50" y1="163.1" x2="782.50" y2="175.2" stroke="#636869" stroke-width="1"/>
<rect x="780.80" y="168.6" width="3.4" height="6.0" fill="#1cad6b" stroke="#235a3b" stroke-width="0.8"/>
<line x1="788.50" y1="162.9" x2="788.50" y2="168.8" stroke="#636869" stroke-width="1"/>
<line x1="786.70" y1="166.5" x2="790.30" y2="166.5" stroke="#636869" stroke-width="1.2"/>
<line x1="793.50" y1="164.5" x2="793.50" y2="175.4" stroke="#636869" stroke-width="1"/>
<rect x="791.80" y="167.1" width="3.4" height="8.3" fill="#ec6a60" stroke="#6c2a25" stroke-width="0.8"/>
<line x1="798.50" y1="168.2" x2="798.50" y2="178.7" stroke="#636869" stroke-width="1"/>
<rect x="796.80" y="173.3" width="3.4" height="5.4" fill="#ec6a60" stroke="#6c2a25" stroke-width="0.8"/>
<line x1="803.50" y1="177.3" x2="803.50" y2="185.5" stroke="#636869" stroke-width="1"/>
<rect x="801.80" y="178.4" width="3.4" height="6.2" fill="#ec6a60" stroke="#6c2a25" stroke-width="0.8"/>
<line x1="808.50" y1="176.1" x2="808.50" y2="187.5" stroke="#636869" stroke-width="1"/>
<line x1="806.70" y1="183.3" x2="810.30" y2="183.3" stroke="#636869" stroke-width="1.2"/>
<line x1="813.50" y1="179.2" x2="813.50" y2="187.1" stroke="#636869" stroke-width="1"/>
<rect x="811.80" y="182.4" width="3.4" height="4.7" fill="#ec6a60" stroke="#6c2a25" stroke-width="0.8"/>
<line x1="818.50" y1="178.4" x2="818.50" y2="192.0" stroke="#636869" stroke-width="1"/>
<rect x="816.80" y="181.2" width="3.4" height="4.8" fill="#1cad6b" stroke="#235a3b" stroke-width="0.8"/>
<line x1="823.50" y1="180.7" x2="823.50" y2="199.4" stroke="#636869" stroke-width="1"/>
<rect x="821.80" y="181.2" width="3.4" height="9.1" fill="#ec6a60" stroke="#6c2a25" stroke-width="0.8"/>
<line x1="828.50" y1="174.4" x2="828.50" y2="194.3" stroke="#636869" stroke-width="1"/>
<rect x="826.80" y="175.8" width="3.4" height="13.6" fill="#1cad6b" stroke="#235a3b" stroke-width="0.8"/>
<line x1="833.50" y1="172.7" x2="833.50" y2="187.1" stroke="#636869" stroke-width="1"/>
<rect x="831.80" y="175.8" width="3.4" height="11.3" fill="#ec6a60" stroke="#6c2a25" stroke-width="0.8"/>
<line x1="838.50" y1="183.5" x2="838.50" y2="191.7" stroke="#636869" stroke-width="1"/>
<line x1="836.70" y1="184.9" x2="840.30" y2="184.9" stroke="#636869" stroke-width="1.2"/>
<line x1="843.50" y1="181.3" x2="843.50" y2="192.3" stroke="#636869" stroke-width="1"/>
<rect x="841.80" y="185.2" width="3.4" height="4.3" fill="#ec6a60" stroke="#6c2a25" stroke-width="0.8"/>
<line x1="848.50" y1="180.4" x2="848.50" y2="192.5" stroke="#636869" stroke-width="1"/>
<line x1="846.70" y1="188.2" x2="850.30" y2="188.2" stroke="#636869" stroke-width="1.2"/>
<line x1="853.50" y1="171.0" x2="853.50" y2="187.6" stroke="#636869" stroke-width="1"/>
<rect x="851.80" y="172.1" width="3.4" height="15.5" fill="#1cad6b" stroke="#235a3b" stroke-width="0.8"/>
<line x1="858.50" y1="171.3" x2="858.50" y2="178.6" stroke="#636869" stroke-width="1"/>
<rect x="856.80" y="172.1" width="3.4" height="6.5" fill="#ec6a60" stroke="#6c2a25" stroke-width="0.8"/>
<line x1="863.50" y1="170.1" x2="863.50" y2="181.6" stroke="#636869" stroke-width="1"/>
<line x1="861.70" y1="177.4" x2="865.30" y2="177.4" stroke="#636869" stroke-width="1.2"/>
<line x1="868.50" y1="164.1" x2="868.50" y2="177.0" stroke="#636869" stroke-width="1"/>
<rect x="866.80" y="169.8" width="3.4" height="7.2" fill="#1cad6b" stroke="#235a3b" stroke-width="0.8"/>
<line x1="873.50" y1="157.4" x2="873.50" y2="172.8" stroke="#636869" stroke-width="1"/>
<rect x="871.80" y="163.0" width="3.4" height="7.6" fill="#1cad6b" stroke="#235a3b" stroke-width="0.8"/>
<line x1="878.50" y1="140.4" x2="878.50" y2="167.5" stroke="#636869" stroke-width="1"/>
<rect x="876.80" y="141.9" width="3.4" height="21.9" fill="#1cad6b" stroke="#235a3b" stroke-width="0.8"/>
<line x1="883.50" y1="137.4" x2="883.50" y2="146.4" stroke="#636869" stroke-width="1"/>
<line x1="881.70" y1="143.0" x2="885.30" y2="143.0" stroke="#636869" stroke-width="1.2"/>
<line x1="888.50" y1="141.1" x2="888.50" y2="146.4" stroke="#636869" stroke-width="1"/>
<rect x="886.80" y="142.5" width="3.4" height="3.7" fill="#ec6a60" stroke="#6c2a25" stroke-width="0.8"/>
<line x1="893.50" y1="141.3" x2="893.50" y2="151.5" stroke="#636869" stroke-width="1"/>
<line x1="891.70" y1="146.5" x2="895.30" y2="146.5" stroke="#636869" stroke-width="1.2"/>
<line x1="898.50" y1="132.6" x2="898.50" y2="149.0" stroke="#636869" stroke-width="1"/>
<rect x="896.80" y="134.0" width="3.4" height="14.1" fill="#1cad6b" stroke="#235a3b" stroke-width="0.8"/>
<line x1="903.50" y1="128.4" x2="903.50" y2="140.5" stroke="#636869" stroke-width="1"/>
<rect x="901.80" y="133.3" width="3.4" height="6.6" fill="#ec6a60" stroke="#6c2a25" stroke-width="0.8"/>
<line x1="908.50" y1="138.2" x2="908.50" y2="160.9" stroke="#636869" stroke-width="1"/>
<rect x="906.80" y="139.0" width="3.4" height="13.6" fill="#ec6a60" stroke="#6c2a25" stroke-width="0.8"/>
<line x1="913.50" y1="145.8" x2="913.50" y2="152.1" stroke="#636869" stroke-width="1"/>
<rect x="911.80" y="149.5" width="3.4" height="2.0" fill="#1cad6b" stroke="#235a3b" stroke-width="0.8"/>
<line x1="918.50" y1="135.2" x2="918.50" y2="148.4" stroke="#636869" stroke-width="1"/>
<rect x="916.80" y="138.2" width="3.4" height="10.2" fill="#1cad6b" stroke="#235a3b" stroke-width="0.8"/>
<line x1="923.50" y1="137.6" x2="923.50" y2="150.7" stroke="#636869" stroke-width="1"/>
<rect x="921.80" y="138.2" width="3.4" height="9.9" fill="#ec6a60" stroke="#6c2a25" stroke-width="0.8"/>
<line x1="928.50" y1="142.2" x2="928.50" y2="157.8" stroke="#636869" stroke-width="1"/>
<rect x="926.80" y="147.3" width="3.4" height="9.2" fill="#ec6a60" stroke="#6c2a25" stroke-width="0.8"/>
<text x="21.4" y="358.3" font-family="Liberation Sans, sans-serif" font-weight="bold" font-size="16.5" fill="#000" stroke="#000" stroke-width="0.5" opacity="0.9" textLength="71" lengthAdjust="spacingAndGlyphs">Investing</text>
<text x="93" y="359.3" font-family="Liberation Sans, sans-serif" font-size="14" fill="#555" textLength="23" lengthAdjust="spacingAndGlyphs">.com</text>
</g>
<text x="15.2" y="64.5" font-family="Liberation Sans, sans-serif" font-size="11.1" fill="#222">MA (50, close, 0)</text>
<text x="15.2" y="74.5" font-family="Liberation Sans, sans-serif" font-size="11.1" fill="#222">MA (200, close, 0)</text>
<g clip-path="url(#cmacd)">
<line x1="8.83" y1="407.8" x2="8.83" y2="405" stroke="#e67c7c" stroke-width="1"/>
<line x1="13.86" y1="407.8" x2="13.86" y2="401.6" stroke="#e67c7c" stroke-width="1"/>
<line x1="18.89" y1="407.8" x2="18.89" y2="401" stroke="#e67c7c" stroke-width="1"/>
<line x1="23.92" y1="407.8" x2="23.92" y2="400.4" stroke="#e67c7c" stroke-width="1"/>
<line x1="28.95" y1="407.8" x2="28.95" y2="399" stroke="#e67c7c" stroke-width="1"/>
<line x1="33.98" y1="407.8" x2="33.98" y2="397.6" stroke="#e67c7c" stroke-width="1"/>
<line x1="39.02" y1="407.8" x2="39.02" y2="394" stroke="#e67c7c" stroke-width="1"/>
<line x1="44.05" y1="407.8" x2="44.05" y2="390" stroke="#e67c7c" stroke-width="1"/>
<line x1="49.08" y1="407.8" x2="49.08" y2="390" stroke="#e67c7c" stroke-width="1"/>
<line x1="54.11" y1="407.8" x2="54.11" y2="392" stroke="#e67c7c" stroke-width="1"/>
<line x1="59.14" y1="407.8" x2="59.14" y2="397.6" stroke="#e67c7c" stroke-width="1"/>
<line x1="64.17" y1="407.8" x2="64.17" y2="402" stroke="#e67c7c" stroke-width="1"/>
<line x1="69.20" y1="407.8" x2="69.20" y2="405" stroke="#e67c7c" stroke-width="1"/>
<line x1="74.23" y1="407.8" x2="74.23" y2="411.6" stroke="#e67c7c" stroke-width="1"/>
<line x1="79.26" y1="407.8" x2="79.26" y2="410" stroke="#e67c7c" stroke-width="1"/>
<line x1="84.29" y1="407.8" x2="84.29" y2="407" stroke="#e67c7c" stroke-width="1"/>
<line x1="89.33" y1="407.8" x2="89.33" y2="402" stroke="#e67c7c" stroke-width="1"/>
<line x1="94.36" y1="407.8" x2="94.36" y2="400" stroke="#e67c7c" stroke-width="1"/>
<line x1="99.39" y1="407.8" x2="99.39" y2="395" stroke="#e67c7c" stroke-width="1"/>
<line x1="104.42" y1="407.8" x2="104.42" y2="389.2" stroke="#e67c7c" stroke-width="1"/>
<line x1="109.45" y1="407.8" x2="109.45" y2="381.9" stroke="#e67c7c" stroke-width="1"/>
<line x1="114.48" y1="407.8" x2="114.48" y2="380.6" stroke="#e67c7c" stroke-width="1"/>
<line x1="119.51" y1="407.8" x2="119.51" y2="380.6" stroke="#e67c7c" stroke-width="1"/>
<line x1="124.54" y1="407.8" x2="124.54" y2="387.8" stroke="#e67c7c" stroke-width="1"/>
<line x1="129.57" y1="407.8" x2="129.57" y2="392" stroke="#e67c7c" stroke-width="1"/>
<line x1="134.60" y1="407.8" x2="134.60" y2="397" stroke="#e67c7c" stroke-width="1"/>
<line x1="139.64" y1="407.8" x2="139.64" y2="402.4" stroke="#e67c7c" stroke-width="1"/>
<line x1="144.67" y1="407.8" x2="144.67" y2="404" stroke="#e67c7c" stroke-width="1"/>
<line x1="149.70" y1="407.8" x2="149.70" y2="405.6" stroke="#e67c7c" stroke-width="1"/>
<line x1="154.73" y1="407.8" x2="154.73" y2="407" stroke="#e67c7c" stroke-width="1"/>
<line x1="159.76" y1="407.8" x2="159.76" y2="410" stroke="#e67c7c" stroke-width="1"/>
<line x1="164.79" y1="407.8" x2="164.79" y2="413" stroke="#e67c7c" stroke-width="1"/>
<line x1="169.82" y1="407.8" x2="169.82" y2="412" stroke="#e67c7c" stroke-width="1"/>
<line x1="174.85" y1="407.8" x2="174.85" y2="408.6" stroke="#e67c7c" stroke-width="1"/>
<line x1="179.88" y1="407.8" x2="179.88" y2="406.6" stroke="#e67c7c" stroke-width="1"/>
<line x1="184.91" y1="407.8" x2="184.91" y2="407.0" stroke="#e67c7c" stroke-width="1"/>
<line x1="189.95" y1="407.8" x2="189.95" y2="408.6" stroke="#e67c7c" stroke-width="1"/>
<line x1="194.98" y1="407.8" x2="194.98" y2="408.5" stroke="#e67c7c" stroke-width="1"/>
<line x1="200.01" y1="407.8" x2="200.01" y2="408.6" stroke="#e67c7c" stroke-width="1"/>
<line x1="205.04" y1="407.8" x2="205.04" y2="408.6" stroke="#e67c7c" stroke-width="1"/>
<line x1="210.07" y1="407.8" x2="210.07" y2="408.6" stroke="#e67c7c" stroke-width="1"/>
<line x1="215.10" y1="407.8" x2="215.10" y2="407" stroke="#e67c7c" stroke-width="1"/>
<line x1="220.13" y1="407.8" x2="220.13" y2="407" stroke="#e67c7c" stroke-width="1"/>
<line x1="225.16" y1="407.8" x2="225.16" y2="408.6" stroke="#e67c7c" stroke-width="1"/>
<line x1="230.19" y1="407.8" x2="230.19" y2="408.6" stroke="#e67c7c" stroke-width="1"/>
<line x1="235.22" y1="407.8" x2="235.22" y2="411" stroke="#e67c7c" stroke-width="1"/>
<line x1="240.26" y1="407.8" x2="240.26" y2="412" stroke="#e67c7c" stroke-width="1"/>
<line x1="245.29" y1="407.8" x2="245.29" y2="413.6" stroke="#e67c7c" stroke-width="1"/>
<line x1="250.32" y1="407.8" x2="250.32" y2="415.6" stroke="#e67c7c" stroke-width="1"/>
<line x1="255.35" y1="407.8" x2="255.35" y2="416" stroke="#e67c7c" stroke-width="1"/>
<line x1="260.38" y1="407.8" x2="260.38" y2="416" stroke="#e67c7c" stroke-width="1"/>
<line x1="265.41" y1="407.8" x2="265.41" y2="415.6" stroke="#e67c7c" stroke-width="1"/>
<line x1="270.44" y1="407.8" x2="270.44" y2="416" stroke="#e67c7c" stroke-width="1"/>
<line x1="275.47" y1="407.8" x2="275.47" y2="414.4" stroke="#e67c7c" stroke-width="1"/>
<line x1="280.50" y1="407.8" x2="280.50" y2="413" stroke="#e67c7c" stroke-width="1"/>
<line x1="285.53" y1="407.8" x2="285.53" y2="413" stroke="#e67c7c" stroke-width="1"/>
<line x1="290.57" y1="407.8" x2="290.57" y2="416.4" stroke="#e67c7c" stroke-width="1"/>
<line x1="295.60" y1="407.8" x2="295.60" y2="417" stroke="#e67c7c" stroke-width="1"/>
<line x1="300.63" y1="407.8" x2="300.63" y2="420" stroke="#e67c7c" stroke-width="1"/>
<line x1="305.66" y1="407.8" x2="305.66" y2="418.6" stroke="#e67c7c" stroke-width="1"/>
<line x1="310.69" y1="407.8" x2="310.69" y2="414" stroke="#e67c7c" stroke-width="1"/>
<line x1="315.72" y1="407.8" x2="315.72" y2="411" stroke="#e67c7c" stroke-width="1"/>
<line x1="320.75" y1="407.8" x2="320.75" y2="408.6" stroke="#e67c7c" stroke-width="1"/>
<line x1="325.78" y1="407.8" x2="325.78" y2="403" stroke="#e67c7c" stroke-width="1"/>
<line x1="330.81" y1="407.8" x2="330.81" y2="400.4" stroke="#e67c7c" stroke-width="1"/>
<line x1="335.84" y1="407.8" x2="335.84" y2="400.4" stroke="#e67c7c" stroke-width="1"/>
<line x1="340.88" y1="407.8" x2="340.88" y2="401.6" stroke="#e67c7c" stroke-width="1"/>
<line x1="345.91" y1="407.8" x2="345.91" y2="404" stroke="#e67c7c" stroke-width="1"/>
<line x1="350.94" y1="407.8" x2="350.94" y2="405.6" stroke="#e67c7c" stroke-width="1"/>
<line x1="355.97" y1="407.8" x2="355.97" y2="406" stroke="#e67c7c" stroke-width="1"/>
<line x1="361.00" y1="407.8" x2="361.00" y2="406.4" stroke="#e67c7c" stroke-width="1"/>
<line x1="366.03" y1="407.8" x2="366.03" y2="406.6" stroke="#e67c7c" stroke-width="1"/>
<line x1="371.06" y1="407.8" x2="371.06" y2="406.8" stroke="#e67c7c" stroke-width="1"/>
<line x1="376.09" y1="407.8" x2="376.09" y2="407.0" stroke="#e67c7c" stroke-width="1"/>
<line x1="381.12" y1="407.8" x2="381.12" y2="407.0" stroke="#e67c7c" stroke-width="1"/>
<line x1="386.15" y1="407.8" x2="386.15" y2="410" stroke="#e67c7c" stroke-width="1"/>
<line x1="391.19" y1="407.8" x2="391.19" y2="411" stroke="#e67c7c" stroke-width="1"/>
<line x1="396.22" y1="407.8" x2="396.22" y2="410" stroke="#e67c7c" stroke-width="1"/>
<line x1="401.25" y1="407.8" x2="401.25" y2="411" stroke="#e67c7c" stroke-width="1"/>
<line x1="406.28" y1="407.8" x2="406.28" y2="414.4" stroke="#e67c7c" stroke-width="1"/>
<line x1="411.31" y1="407.8" x2="411.31" y2="419" stroke="#e67c7c" stroke-width="1"/>
<line x1="416.34" y1="407.8" x2="416.34" y2="422.4" stroke="#e67c7c" stroke-width="1"/>
<line x1="421.37" y1="407.8" x2="421.37" y2="425" stroke="#e67c7c" stroke-width="1"/>
<line x1="426.40" y1="407.8" x2="426.40" y2="425.6" stroke="#e67c7c" stroke-width="1"/>
<line x1="431.43" y1="407.8" x2="431.43" y2="426.4" stroke="#e67c7c" stroke-width="1"/>
<line x1="436.46" y1="407.8" x2="436.46" y2="425.6" stroke="#e67c7c" stroke-width="1"/>
<line x1="441.50" y1="407.8" x2="441.50" y2="422.4" stroke="#e67c7c" stroke-width="1"/>
<line x1="446.53" y1="407.8" x2="446.53" y2="421" stroke="#e67c7c" stroke-width="1"/>
<line x1="451.56" y1="407.8" x2="451.56" y2="419" stroke="#e67c7c" stroke-width="1"/>
<line x1="456.59" y1="407.8" x2="456.59" y2="417" stroke="#e67c7c" stroke-width="1"/>
<line x1="461.62" y1="407.8" x2="461.62" y2="415" stroke="#e67c7c" stroke-width="1"/>
<line x1="466.65" y1="407.8" x2="466.65" y2="415" stroke="#e67c7c" stroke-width="1"/>
<line x1="471.68" y1="407.8" x2="471.68" y2="416.4" stroke="#e67c7c" stroke-width="1"/>
<line x1="476.71" y1="407.8" x2="476.71" y2="416.4" stroke="#e67c7c" stroke-width="1"/>
<line x1="481.74" y1="407.8" x2="481.74" y2="417" stroke="#e67c7c" stroke-width="1"/>
<line x1="486.77" y1="407.8" x2="486.77" y2="417" stroke="#e67c7c" stroke-width="1"/>
<line x1="491.81" y1="407.8" x2="491.81" y2="415" stroke="#e67c7c" stroke-width="1"/>
<line x1="496.84" y1="407.8" x2="496.84" y2="412" stroke="#e67c7c" stroke-width="1"/>
<line x1="501.87" y1="407.8" x2="501.87" y2="411" stroke="#e67c7c" stroke-width="1"/>
<line x1="506.90" y1="407.8" x2="506.90" y2="409" stroke="#e67c7c" stroke-width="1"/>
<line x1="511.93" y1="407.8" x2="511.93" y2="405.6" stroke="#e67c7c" stroke-width="1"/>
<line x1="516.96" y1="407.8" x2="516.96" y2="407" stroke="#e67c7c" stroke-width="1"/>
<line x1="521.99" y1="407.8" x2="521.99" y2="407.0" stroke="#e67c7c" stroke-width="1"/>
<line x1="527.02" y1="407.8" x2="527.02" y2="407.0" stroke="#e67c7c" stroke-width="1"/>
<line x1="532.05" y1="407.8" x2="532.05" y2="406.4" stroke="#e67c7c" stroke-width="1"/>
<line x1="537.09" y1="407.8" x2="537.09" y2="402" stroke="#e67c7c" stroke-width="1"/>
<line x1="542.12" y1="407.8" x2="542.12" y2="400" stroke="#e67c7c" stroke-width="1"/>
<line x1="547.15" y1="407.8" x2="547.15" y2="403" stroke="#e67c7c" stroke-width="1"/>
<line x1="552.18" y1="407.8" x2="552.18" y2="404" stroke="#e67c7c" stroke-width="1"/>
<line x1="557.21" y1="407.8" x2="557.21" y2="403" stroke="#e67c7c" stroke-width="1"/>
<line x1="562.24" y1="407.8" x2="562.24" y2="401" stroke="#e67c7c" stroke-width="1"/>
<line x1="567.27" y1="407.8" x2="567.27" y2="399" stroke="#e67c7c" stroke-width="1"/>
<line x1="572.30" y1="407.8" x2="572.30" y2="394.4" stroke="#e67c7c" stroke-width="1"/>
<line x1="577.33" y1="407.8" x2="577.33" y2="394.4" stroke="#e67c7c" stroke-width="1"/>
<line x1="582.36" y1="407.8" x2="582.36" y2="396" stroke="#e67c7c" stroke-width="1"/>
<line x1="587.39" y1="407.8" x2="587.39" y2="396" stroke="#e67c7c" stroke-width="1"/>
<line x1="592.43" y1="407.8" x2="592.43" y2="397" stroke="#e67c7c" stroke-width="1"/>
<line x1="597.46" y1="407.8" x2="597.46" y2="398" stroke="#e67c7c" stroke-width="1"/>
<line x1="602.49" y1="407.8" x2="602.49" y2="396" stroke="#e67c7c" stroke-width="1"/>
<line x1="607.52" y1="407.8" x2="607.52" y2="400" stroke="#e67c7c" stroke-width="1"/>
<line x1="612.55" y1="407.8" x2="612.55" y2="400.4" stroke="#e67c7c" stroke-width="1"/>
<line x1="617.58" y1="407.8" x2="617.58" y2="400" stroke="#e67c7c" stroke-width="1"/>
<line x1="622.61" y1="407.8" x2="622.61" y2="401" stroke="#e67c7c" stroke-width="1"/>
<line x1="627.64" y1="407.8" x2="627.64" y2="402" stroke="#e67c7c" stroke-width="1"/>
<line x1="632.67" y1="407.8" x2="632.67" y2="405" stroke="#e67c7c" stroke-width="1"/>
<line x1="637.71" y1="407.8" x2="637.71" y2="407" stroke="#e67c7c" stroke-width="1"/>
<line x1="642.74" y1="407.8" x2="642.74" y2="407" stroke="#e67c7c" stroke-width="1"/>
<line x1="647.77" y1="407.8" x2="647.77" y2="407" stroke="#e67c7c" stroke-width="1"/>
<line x1="652.80" y1="407.8" x2="652.80" y2="405" stroke="#e67c7c" stroke-width="1"/>
<line x1="657.83" y1="407.8" x2="657.83" y2="405" stroke="#e67c7c" stroke-width="1"/>
<line x1="662.86" y1="407.8" x2="662.86" y2="406.6" stroke="#e67c7c" stroke-width="1"/>
<line x1="667.89" y1="407.8" x2="667.89" y2="407.0" stroke="#e67c7c" stroke-width="1"/>
<line x1="672.92" y1="407.8" x2="672.92" y2="409" stroke="#e67c7c" stroke-width="1"/>
<line x1="677.95" y1="407.8" x2="677.95" y2="409.6" stroke="#e67c7c" stroke-width="1"/>
<line x1="682.98" y1="407.8" x2="682.98" y2="410" stroke="#e67c7c" stroke-width="1"/>
<line x1="688.01" y1="407.8" x2="688.01" y2="410" stroke="#e67c7c" stroke-width="1"/>
<line x1="693.05" y1="407.8" x2="693.05" y2="410" stroke="#e67c7c" stroke-width="1"/>
<line x1="698.08" y1="407.8" x2="698.08" y2="409.6" stroke="#e67c7c" stroke-width="1"/>
<line x1="703.11" y1="407.8" x2="703.11" y2="409" stroke="#e67c7c" stroke-width="1"/>
<line x1="708.14" y1="407.8" x2="708.14" y2="409.6" stroke="#e67c7c" stroke-width="1"/>
<line x1="713.17" y1="407.8" x2="713.17" y2="411" stroke="#e67c7c" stroke-width="1"/>
<line x1="718.20" y1="407.8" x2="718.20" y2="411" stroke="#e67c7c" stroke-width="1"/>
<line x1="723.23" y1="407.8" x2="723.23" y2="411" stroke="#e67c7c" stroke-width="1"/>
<line x1="728.26" y1="407.8" x2="728.26" y2="411" stroke="#e67c7c" stroke-width="1"/>
<line x1="733.29" y1="407.8" x2="733.29" y2="412" stroke="#e67c7c" stroke-width="1"/>
<line x1="738.33" y1="407.8" x2="738.33" y2="413" stroke="#e67c7c" stroke-width="1"/>
<line x1="743.36" y1="407.8" x2="743.36" y2="414" stroke="#e67c7c" stroke-width="1"/>
<line x1="748.39" y1="407.8" x2="748.39" y2="415" stroke="#e67c7c" stroke-width="1"/>
<line x1="753.42" y1="407.8" x2="753.42" y2="417" stroke="#e67c7c" stroke-width="1"/>
<line x1="758.45" y1="407.8" x2="758.45" y2="420" stroke="#e67c7c" stroke-width="1"/>
<line x1="763.48" y1="407.8" x2="763.48" y2="421.6" stroke="#e67c7c" stroke-width="1"/>
<line x1="768.51" y1="407.8" x2="768.51" y2="422" stroke="#e67c7c" stroke-width="1"/>
<line x1="773.54" y1="407.8" x2="773.54" y2="423" stroke="#e67c7c" stroke-width="1"/>
<line x1="778.57" y1="407.8" x2="778.57" y2="423.6" stroke="#e67c7c" stroke-width="1"/>
<line x1="783.60" y1="407.8" x2="783.60" y2="422.4" stroke="#e67c7c" stroke-width="1"/>
<line x1="788.63" y1="407.8" x2="788.63" y2="421" stroke="#e67c7c" stroke-width="1"/>
<line x1="793.67" y1="407.8" x2="793.67" y2="420" stroke="#e67c7c" stroke-width="1"/>
<line x1="798.70" y1="407.8" x2="798.70" y2="419" stroke="#e67c7c" stroke-width="1"/>
<line x1="803.73" y1="407.8" x2="803.73" y2="420" stroke="#e67c7c" stroke-width="1"/>
<line x1="808.76" y1="407.8" x2="808.76" y2="419" stroke="#e67c7c" stroke-width="1"/>
<line x1="813.79" y1="407.8" x2="813.79" y2="417" stroke="#e67c7c" stroke-width="1"/>
<line x1="818.82" y1="407.8" x2="818.82" y2="415.6" stroke="#e67c7c" stroke-width="1"/>
<line x1="823.85" y1="407.8" x2="823.85" y2="415" stroke="#e67c7c" stroke-width="1"/>
<line x1="828.88" y1="407.8" x2="828.88" y2="412" stroke="#e67c7c" stroke-width="1"/>
<line x1="833.91" y1="407.8" x2="833.91" y2="410" stroke="#e67c7c" stroke-width="1"/>
<line x1="838.94" y1="407.8" x2="838.94" y2="409" stroke="#e67c7c" stroke-width="1"/>
<line x1="843.98" y1="407.8" x2="843.98" y2="408.6" stroke="#e67c7c" stroke-width="1"/>
<line x1="849.01" y1="407.8" x2="849.01" y2="407" stroke="#e67c7c" stroke-width="1"/>
<line x1="854.04" y1="407.8" x2="854.04" y2="405" stroke="#e67c7c" stroke-width="1"/>
<line x1="859.07" y1="407.8" x2="859.07" y2="404" stroke="#e67c7c" stroke-width="1"/>
<line x1="864.10" y1="407.8" x2="864.10" y2="402.4" stroke="#e67c7c" stroke-width="1"/>
<line x1="869.13" y1="407.8" x2="869.13" y2="401" stroke="#e67c7c" stroke-width="1"/>
<line x1="874.16" y1="407.8" x2="874.16" y2="399" stroke="#e67c7c" stroke-width="1"/>
<line x1="879.19" y1="407.8" x2="879.19" y2="394.4" stroke="#e67c7c" stroke-width="1"/>
<line x1="884.22" y1="407.8" x2="884.22" y2="391.6" stroke="#e67c7c" stroke-width="1"/>
<line x1="889.25" y1="407.8" x2="889.25" y2="391.6" stroke="#e67c7c" stroke-width="1"/>
<line x1="894.29" y1="407.8" x2="894.29" y2="392" stroke="#e67c7c" stroke-width="1"/>
<line x1="899.32" y1="407.8" x2="899.32" y2="391" stroke="#e67c7c" stroke-width="1"/>
<line x1="904.35" y1="407.8" x2="904.35" y2="393.6" stroke="#e67c7c" stroke-width="1"/>
<line x1="909.38" y1="407.8" x2="909.38" y2="397.6" stroke="#e67c7c" stroke-width="1"/>
<line x1="914.41" y1="407.8" x2="914.41" y2="401" stroke="#e67c7c" stroke-width="1"/>
<line x1="919.44" y1="407.8" x2="919.44" y2="402" stroke="#e67c7c" stroke-width="1"/>
<line x1="924.47" y1="407.8" x2="924.47" y2="405" stroke="#e67c7c" stroke-width="1"/>
<line x1="929.50" y1="407.8" x2="929.50" y2="407.0" stroke="#e67c7c" stroke-width="1"/>
<polyline points="8,434 20,433 30,430 40,424 52,415 64,408 76,403 90,400 104,395 114,384 124,373 130,360 290,360 300,372.4 310,377 320,378.4 330,379 340,377.6 350,374.4 356,372.4 362,360 400,360 408,372.4 420,379 430,385 440,392 450,399 460,406 465,410 475,414 485,419 495,422.4 505,424.4 515,425.6 525,426.4 535,424.4 545,421.6 555,420 561,419 569,415 577,411 585,407 595,402 605,395 615,390 625,386 635,382.4 645,380.4 655,379 665,378.4 675,379 685,379 695,379 700,379.6 712,381 724,382.4 740,385 752,389 764,393.6 774,399.6 784,407 794,414 804,419 814,424.4 824,429 836,432.4 848,433.6 860,432 872,429 880,425 890,417 900,410 910,403 920,398 928,395.6" fill="none" stroke="#f07878" stroke-width="1"/>
<polyline points="8,430 14,426.6 24,424.4 34,416 39,411 44,402 54,397 64,400 74,407 84,400 94,391 103,373 110,355 280,355 286,372.4 290,376 300,385 305,385 314,381 322,377.6 328,372.4 335,355 380,355 388,372.4 390,374 392,372 398,372 400,372.4 406,378 414,388 422,396 430,403 440,407.6 450,413 460,416.4 465,417 473,421.6 481,426.4 490,428.4 496,425.6 503,426.4 511,422.4 517,425 523,426.4 529,425 535,419 541,414 547,416.4 553,416 559,413 565,408 571,400 577,394.4 583,395.6 589,392 595,389.6 603,385.6 609,384.4 617,380.4 625,379.6 632,379.6 637,381.6 643,381 649,377.6 655,375.6 659,376 665,378 671,379 677,381 683,381 687,379 693,381.6 700,380.4 706,381 712,383.6 718,385 722,384.4 730,386.4 736,387.6 742,391 748,394 754,399 760,404.4 766,408 772,412.4 778,417 784,421 788,422.4 794,425.6 802,428.4 810,431 818,434 823,435 828,433.6 836,433 848,433.6 854,430 862,426.4 872,420 880,409 888,403 894,399.6 900,395 904,393.6 910,395 914,394 919,392.4 923,393 928,395.6" fill="none" stroke="#6060e0" stroke-width="1"/>
</g>
<text x="14.8" y="390" font-family="Liberation Sans, sans-serif" font-size="11.15" fill="#222">MACD (12, 26, close, 9)</text>
<g clip-path="url(#crsi)">
<rect x="7" y="459.5" width="1144.5" height="52" fill="#f2e4f3"/>
<line x1="7" y1="459.1" x2="1152" y2="459.1" stroke="#8a8a8a" stroke-width="1.3" stroke-dasharray="4.8 4.2" stroke-dashoffset="3"/>
<line x1="7" y1="495.5" x2="1151" y2="495.5" stroke="#92c4d4" stroke-width="1"/>
<polyline points="7.6,487 13,486.4 19,493 24,492.4 29,485 33,483 38,475.6 43.6,468.4 49,479.6 53,480 58.4,487 63.6,488 68,492.4 73,498 78.4,480.4 84,476.4 89,473 94,479 99,468 103.6,460.6 109,463 114,461.4 119,460 124,463 129,467.6 134,474.4 139,471.6 144,465.6 149,464.4 154,466 159,473 164,474 169,467.6 174,461 179,460.4 184,465.6 189,469 194,466.6 199,463.4 204,466.4 209,466 214,460 220,458.4 225,464 230,469.6 235,468 239,467 244,469 249.4,471.4 255,469 260,467 265,466.4 270,472 275,466 279.4,462.4 284.6,469 289.4,487 294.4,480.4 300.6,490.4 305.4,478 310.6,470.4 316,470 320.6,468 325,462.4 330.6,464 335.4,466 340.6,470.4 345.4,469.6 351,467 355.4,465 361,463.4 366,461.6 371,459.4 376,463.6 381,468 386,473 391,470 395.6,458.4 400.6,474 406,488 411,493.6 416,494.4 420.6,496.4 425.4,492.4 430.6,499 435.4,493 441,490.4 446,496 451,499 456,494.4 461,496.4 466,501.6 471,505.6 476,506 480,511 486,500.4 491,503 496,490.4 501,497.6 506,492.4 511.6,487.6 516.4,501 521.6,501 526.4,496.4 531.6,489 536.4,479.6 541,479.6 546.4,496 551,493 556,486.4 561,481 566,477 571,470 576,473 582,481.6 587,478 592,474 597,474 602,469 607,477 612,472 617,468 622,474 626.4,472.4 631.6,476 637,480.6 642,475 647,469 651.6,465 657,470 662.4,479.6 667.6,475.6 672.4,478 677.6,476.4 682.4,474.4 687,470 692.4,479 697,473 702,474 707.4,476 712.6,482.4 717.4,479 722,473 728,479.6 732.6,479 737.4,481 742.6,487 747.4,485 752.6,494 757.4,501 762.6,497 767.4,498.4 772.6,501.6 777.4,508.4 782.6,503 787.4,501 792.6,505.6 797.4,508 802,513 808,516 814,513 818.6,506 821,511 824,511 828,498 833,504.4 838,503 843,505 848,504.4 853,489.6 858,494.4 863,493 868,488 873,481.6 878.6,468 883.4,469.6 888.6,471 893.4,473 898.6,465.6 903.4,470.4 908.6,482 913.4,479.6 918.6,473 923.4,480 928.6,487" fill="none" stroke="#a866ac" stroke-width="1"/>
</g>
<text x="15.3" y="459.3" font-family="Liberation Sans, sans-serif" font-size="11.03" fill="#222">Índice de fuerza relativa (RSI por sus siglas en inglés) (14)</text>
<line x1="7" y1="372.7" x2="1194" y2="372.7" stroke="#727272" stroke-width="1.2"/>
<line x1="7" y1="442.5" x2="1194" y2="442.5" stroke="#727272" stroke-width="1.2"/>
<line x1="7" y1="510.2" x2="1152.5" y2="510.2" stroke="#666" stroke-width="1.1"/>
<line x1="1152.5" y1="48.2" x2="1152.5" y2="510.6" stroke="#5a5a5a" stroke-width="1.2"/>
<line x1="1152.5" y1="56.42000000000036" x2="1155" y2="56.42000000000036" stroke="#555" stroke-width="1"/>
<text transform="translate(1158.3,60.3) scale(0.95,1)" font-family="Liberation Sans, sans-serif" font-size="9.6" fill="#555555">1.1400</text>
<line x1="1152.5" y1="93.95999999999997" x2="1155" y2="93.95999999999997" stroke="#555" stroke-width="1"/>
<text transform="translate(1158.3,97.9) scale(0.95,1)" font-family="Liberation Sans, sans-serif" font-size="9.6" fill="#555555">1.1200</text>
<line x1="1152.5" y1="131.5" x2="1155" y2="131.5" stroke="#555" stroke-width="1"/>
<text transform="translate(1158.3,135.4) scale(0.95,1)" font-family="Liberation Sans, sans-serif" font-size="9.6" fill="#555555">1.1000</text>
<line x1="1152.5" y1="244.12000000000012" x2="1155" y2="244.12000000000012" stroke="#555" stroke-width="1"/>
<text transform="translate(1158.3,248.0) scale(0.95,1)" font-family="Liberation Sans, sans-serif" font-size="9.6" fill="#555555">1.0400</text>
<line x1="1152.5" y1="281.66000000000014" x2="1155" y2="281.66000000000014" stroke="#555" stroke-width="1"/>
<text transform="translate(1158.3,285.6) scale(0.95,1)" font-family="Liberation Sans, sans-serif" font-size="9.6" fill="#555555">1.0200</text>
<line x1="1152.5" y1="319.20000000000016" x2="1155" y2="319.20000000000016" stroke="#555" stroke-width="1"/>
<text transform="translate(1158.3,323.1) scale(0.95,1)" font-family="Liberation Sans, sans-serif" font-size="9.6" fill="#555555">1.0000</text>
<line x1="1152.5" y1="356.74000000000024" x2="1155" y2="356.74000000000024" stroke="#555" stroke-width="1"/>
<text transform="translate(1158.3,360.6) scale(0.95,1)" font-family="Liberation Sans, sans-serif" font-size="9.6" fill="#555555">0.9800</text>
<rect x="1152" y="106.9" width="37" height="13.3" fill="#7ccadb"/>
<line x1="1152.5" y1="113.4" x2="1155" y2="113.4" stroke="#10303c" stroke-width="1"/>
<text transform="translate(1158.2,116.9) scale(0.93,1)" font-family="Liberation Sans, sans-serif" font-size="9.6" font-weight="bold" fill="#10303c">1.1098</text>
<rect x="1152" y="149.4" width="37" height="13.3" fill="#0a0af0"/>
<line x1="1152.5" y1="155.9" x2="1155" y2="155.9" stroke="#ffffff" stroke-width="1"/>
<text transform="translate(1158.2,159.4) scale(0.93,1)" font-family="Liberation Sans, sans-serif" font-size="9.6" font-weight="bold" fill="#ffffff">1.0871</text>
<rect x="1152" y="162.5" width="37" height="13.3" fill="#4a6ee0"/>
<line x1="1152.5" y1="169.0" x2="1155" y2="169.0" stroke="#ffffff" stroke-width="1"/>
<text transform="translate(1158.2,172.5) scale(0.93,1)" font-family="Liberation Sans, sans-serif" font-size="9.6" font-weight="bold" fill="#ffffff">1.0865</text>
<rect x="1152" y="181.5" width="37" height="13.3" fill="#7ccadb"/>
<line x1="1152.5" y1="188.0" x2="1155" y2="188.0" stroke="#10303c" stroke-width="1"/>
<text transform="translate(1158.2,191.5) scale(0.93,1)" font-family="Liberation Sans, sans-serif" font-size="9.6" font-weight="bold" fill="#10303c">1.0700</text>
<rect x="1152" y="203.1" width="37" height="13.3" fill="#f01515"/>
<line x1="1152.5" y1="209.6" x2="1155" y2="209.6" stroke="#ffffff" stroke-width="1"/>
<text transform="translate(1158.2,213.1) scale(0.93,1)" font-family="Liberation Sans, sans-serif" font-size="9.6" font-weight="bold" fill="#ffffff">1.0583</text>
<rect x="1152" y="216.3" width="37" height="13.3" fill="#7ccadb"/>
<line x1="1152.5" y1="222.8" x2="1155" y2="222.8" stroke="#10303c" stroke-width="1"/>
<text transform="translate(1158.2,226.3) scale(0.93,1)" font-family="Liberation Sans, sans-serif" font-size="9.6" font-weight="bold" fill="#10303c">1.0517</text>
<rect x="1152" y="374.8" width="37" height="13.3" fill="#0a0af0"/>
<line x1="1152.5" y1="381.3" x2="1155" y2="381.3" stroke="#ffffff" stroke-width="1"/>
<text transform="translate(1158.2,384.8) scale(0.93,1)" font-family="Liberation Sans, sans-serif" font-size="9.6" font-weight="bold" fill="#ffffff">0.0028</text>
<rect x="1152" y="388.1" width="37" height="13.3" fill="#f01515"/>
<line x1="1152.5" y1="394.6" x2="1155" y2="394.6" stroke="#ffffff" stroke-width="1"/>
<text transform="translate(1158.2,398.1) scale(0.93,1)" font-family="Liberation Sans, sans-serif" font-size="9.6" font-weight="bold" fill="#ffffff">0.0028</text>
<rect x="1152" y="401.3" width="37" height="13.3" fill="#f01515"/>
<line x1="1152.5" y1="407.8" x2="1155" y2="407.8" stroke="#ffffff" stroke-width="1"/>
<text transform="translate(1158.2,411.3) scale(0.93,1)" font-family="Liberation Sans, sans-serif" font-size="9.6" font-weight="bold" fill="#ffffff">0.0000</text>
<line x1="1152.5" y1="444.3" x2="1155" y2="444.3" stroke="#555" stroke-width="1"/>
<text transform="translate(1158.3,448.2) scale(0.95,1)" font-family="Liberation Sans, sans-serif" font-size="9.6" fill="#555555">80.0000</text>
<line x1="1152.5" y1="472.9" x2="1155" y2="472.9" stroke="#555" stroke-width="1"/>
<text transform="translate(1158.3,476.8) scale(0.95,1)" font-family="Liberation Sans, sans-serif" font-size="9.6" fill="#555555">60.0000</text>
<rect x="1152" y="481.1" width="41" height="13.3" fill="#800080"/>
<line x1="1152.5" y1="487.6" x2="1155" y2="487.6" stroke="#ffffff" stroke-width="1"/>
<text transform="translate(1158.2,491.1) scale(0.93,1)" font-family="Liberation Sans, sans-serif" font-size="9.6" font-weight="bold" fill="#ffffff">50.1106</text>
<rect x="1152" y="494.2" width="41" height="13.3" fill="#7ccadb"/>
<line x1="1152.5" y1="500.7" x2="1155" y2="500.7" stroke="#10303c" stroke-width="1"/>
<text transform="translate(1158.2,504.2) scale(0.93,1)" font-family="Liberation Sans, sans-serif" font-size="9.6" font-weight="bold" fill="#10303c">44.6257</text>
<line x1="64.5" y1="510" x2="64.5" y2="513" stroke="#555" stroke-width="1"/>
<text transform="translate(63.90,522.7) scale(0.92,1)" text-anchor="middle" font-family="Liberation Sans, sans-serif" font-size="9.9" fill="#505050" stroke="#505050" stroke-width="0.25">Nov</text>
<line x1="175" y1="510" x2="175" y2="513" stroke="#555" stroke-width="1"/>
<text transform="translate(174.40,522.7) scale(0.92,1)" text-anchor="middle" font-family="Liberation Sans, sans-serif" font-size="9.9" fill="#505050" stroke="#505050" stroke-width="0.25">Dic</text>
<line x1="285" y1="510" x2="285" y2="513" stroke="#555" stroke-width="1"/>
<text transform="translate(284.40,522.7) scale(0.9,1)" text-anchor="middle" font-family="Liberation Sans, sans-serif" font-size="9.9" fill="#505050" stroke="#505050" stroke-width="0" font-weight="bold">2023</text>
<line x1="396.5" y1="510" x2="396.5" y2="513" stroke="#555" stroke-width="1"/>
<text transform="translate(395.90,522.7) scale(0.92,1)" text-anchor="middle" font-family="Liberation Sans, sans-serif" font-size="9.9" fill="#505050" stroke="#505050" stroke-width="0.25">Feb</text>
<line x1="496.5" y1="510" x2="496.5" y2="513" stroke="#555" stroke-width="1"/>
<text transform="translate(495.90,522.7) scale(0.92,1)" text-anchor="middle" font-family="Liberation Sans, sans-serif" font-size="9.9" fill="#505050" stroke="#505050" stroke-width="0.25">Mar</text>
<line x1="612.5" y1="510" x2="612.5" y2="513" stroke="#555" stroke-width="1"/>
<text transform="translate(611.90,522.7) scale(0.92,1)" text-anchor="middle" font-family="Liberation Sans, sans-serif" font-size="9.9" fill="#505050" stroke="#505050" stroke-width="0.25">Abr</text>
<line x1="713" y1="510" x2="713" y2="513" stroke="#555" stroke-width="1"/>
<text transform="translate(712.40,522.7) scale(0.92,1)" text-anchor="middle" font-family="Liberation Sans, sans-serif" font-size="9.9" fill="#505050" stroke="#505050" stroke-width="0.25">May</text>
<line x1="828.75" y1="510" x2="828.75" y2="513" stroke="#555" stroke-width="1"/>
<text transform="translate(828.15,522.7) scale(0.92,1)" text-anchor="middle" font-family="Liberation Sans, sans-serif" font-size="9.9" fill="#505050" stroke="#505050" stroke-width="0.25">Jun</text>
<line x1="940" y1="510" x2="940" y2="513" stroke="#555" stroke-width="1"/>
<text transform="translate(939.40,522.7) scale(0.92,1)" text-anchor="middle" font-family="Liberation Sans, sans-serif" font-size="9.9" fill="#505050" stroke="#505050" stroke-width="0.25">Jul</text>
<line x1="1045" y1="510" x2="1045" y2="513" stroke="#555" stroke-width="1"/>
<text transform="translate(1044.40,522.7) scale(0.92,1)" text-anchor="middle" font-family="Liberation Sans, sans-serif" font-size="9.9" fill="#505050" stroke="#505050" stroke-width="0.25">Ago</text>
<line x1="1110.75" y1="510" x2="1110.75" y2="513" stroke="#555" stroke-width="1"/>
<text transform="translate(1110.15,522.7) scale(0.92,1)" text-anchor="middle" font-family="Liberation Sans, sans-serif" font-size="9.9" fill="#505050" stroke="#505050" stroke-width="0.25">18</text>
<rect x="0" y="528" width="1200" height="2" fill="#111"/>
</svg>
</body></html>
